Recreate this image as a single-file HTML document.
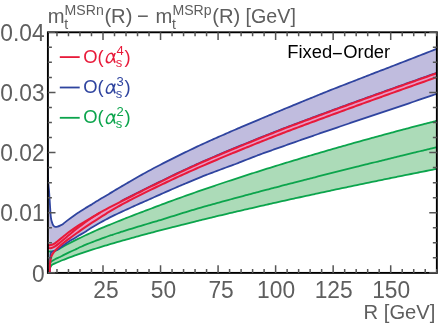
<!DOCTYPE html>
<html><head><meta charset="utf-8"><title>plot</title>
<style>html,body{margin:0;padding:0;background:#fff;width:440px;height:325px;overflow:hidden}body{font-family:"Liberation Sans",sans-serif}</style></head>
<body>
<svg width="440" height="325" viewBox="0 0 440 325" style="display:block;position:absolute;left:0;top:0;will-change:transform">
<defs><clipPath id="cp"><rect x="47.90" y="32.30" width="388.95" height="240.60"/></clipPath></defs>
<rect width="440" height="325" fill="#ffffff"/>
<g clip-path="url(#cp)" fill="none" stroke-linejoin="round">
<path d="M47.90 251.40 L48.56 251.43 L49.51 251.48 L50.56 251.51 L51.50 251.50 L52.30 251.43 L53.07 251.32 L53.80 251.17 L54.50 251.00 L55.15 250.80 L55.75 250.57 L56.35 250.30 L57.00 250.00 L57.71 249.64 L58.47 249.24 L59.24 248.82 L60.00 248.40 L60.75 247.98 L61.50 247.55 L62.25 247.12 L63.00 246.69 L63.75 246.27 L64.50 245.86 L65.25 245.45 L66.00 245.05 L66.75 244.64 L67.50 244.24 L68.25 243.85 L69.00 243.45 L69.75 243.06 L70.50 242.67 L71.25 242.28 L72.00 241.90 L72.75 241.52 L73.50 241.14 L74.25 240.76 L75.00 240.38 L75.75 240.01 L76.50 239.64 L77.25 239.27 L78.00 238.90 L78.75 238.53 L79.50 238.17 L80.25 237.80 L81.00 237.44 L81.75 237.08 L82.50 236.72 L83.25 236.36 L84.00 236.01 L84.75 235.65 L85.50 235.30 L86.25 234.95 L87.00 234.60 L87.75 234.25 L88.50 233.90 L89.25 233.56 L90.00 233.21 L90.75 232.87 L91.50 232.52 L92.25 232.18 L93.00 231.84 L93.75 231.50 L94.50 231.16 L95.25 230.82 L96.00 230.49 L96.75 230.15 L97.50 229.81 L98.25 229.48 L99.00 229.15 L99.75 228.83 L100.50 228.51 L101.25 228.19 L102.00 227.88 L102.75 227.57 L103.50 227.26 L104.25 226.95 L105.00 226.65 L105.75 226.34 L106.50 226.04 L107.25 225.73 L108.00 225.43 L108.75 225.12 L109.50 224.82 L110.25 224.52 L111.00 224.21 L111.75 223.90 L112.50 223.59 L113.25 223.29 L114.00 222.98 L114.75 222.67 L115.50 222.37 L116.25 222.06 L117.00 221.76 L117.75 221.46 L118.50 221.15 L119.25 220.85 L120.00 220.55 L120.75 220.25 L121.50 219.95 L122.25 219.65 L123.00 219.35 L123.75 219.06 L124.50 218.76 L125.25 218.46 L126.00 218.17 L126.75 217.87 L127.50 217.57 L128.25 217.28 L129.00 216.99 L129.75 216.69 L130.50 216.40 L131.25 216.11 L132.00 215.82 L132.75 215.53 L133.50 215.24 L134.25 214.95 L135.00 214.66 L135.75 214.37 L136.50 214.08 L137.25 213.79 L138.00 213.51 L138.75 213.22 L139.50 212.93 L140.25 212.65 L141.00 212.36 L141.75 212.08 L142.50 211.80 L143.25 211.51 L144.00 211.23 L144.75 210.95 L145.50 210.67 L146.25 210.38 L147.00 210.10 L147.75 209.82 L148.50 209.54 L149.25 209.27 L150.00 208.98 L150.75 208.70 L151.50 208.41 L152.25 208.12 L153.00 207.84 L153.75 207.55 L154.50 207.27 L155.25 206.98 L156.00 206.70 L156.75 206.42 L157.50 206.13 L158.25 205.85 L159.00 205.57 L159.75 205.29 L160.50 205.00 L161.25 204.72 L162.00 204.44 L162.75 204.16 L163.50 203.88 L164.25 203.60 L165.00 203.32 L165.75 203.05 L166.50 202.77 L167.25 202.49 L168.00 202.21 L168.75 201.94 L169.50 201.66 L170.25 201.38 L171.00 201.11 L171.75 200.83 L172.50 200.56 L173.25 200.28 L174.00 200.01 L174.75 199.73 L175.50 199.46 L176.25 199.19 L177.00 198.92 L177.75 198.64 L178.50 198.37 L179.25 198.10 L180.00 197.83 L180.75 197.56 L181.50 197.29 L182.25 197.02 L183.00 196.75 L183.75 196.48 L184.50 196.21 L185.25 195.94 L186.00 195.67 L186.75 195.40 L187.50 195.14 L188.25 194.87 L189.00 194.60 L189.75 194.34 L190.50 194.07 L191.25 193.80 L192.00 193.54 L192.75 193.27 L193.50 193.01 L194.25 192.74 L195.00 192.48 L195.75 192.22 L196.50 191.95 L197.25 191.69 L198.00 191.43 L198.75 191.16 L199.50 190.90 L200.25 190.64 L201.00 190.38 L201.75 190.12 L202.50 189.86 L203.25 189.61 L204.00 189.35 L204.75 189.09 L205.50 188.83 L206.25 188.58 L207.00 188.32 L207.75 188.07 L208.50 187.81 L209.25 187.55 L210.00 187.30 L210.75 187.04 L211.50 186.79 L212.25 186.54 L213.00 186.28 L213.75 186.03 L214.50 185.77 L215.25 185.52 L216.00 185.27 L216.75 185.02 L217.50 184.76 L218.25 184.51 L219.00 184.26 L219.75 184.01 L220.50 183.76 L221.25 183.51 L222.00 183.26 L222.75 183.01 L223.50 182.76 L224.25 182.51 L225.00 182.26 L225.75 182.01 L226.50 181.76 L227.25 181.51 L228.00 181.26 L228.75 181.02 L229.50 180.77 L230.25 180.52 L231.00 180.28 L231.75 180.03 L232.50 179.78 L233.25 179.54 L234.00 179.29 L234.75 179.04 L235.50 178.80 L236.25 178.55 L237.00 178.31 L237.75 178.06 L238.50 177.82 L239.25 177.58 L240.00 177.33 L240.75 177.09 L241.50 176.85 L242.25 176.60 L243.00 176.36 L243.75 176.12 L244.50 175.88 L245.25 175.63 L246.00 175.39 L246.75 175.15 L247.50 174.91 L248.25 174.67 L249.00 174.43 L249.75 174.19 L250.50 173.95 L251.25 173.71 L252.00 173.47 L252.75 173.23 L253.50 172.99 L254.25 172.75 L255.00 172.51 L255.75 172.27 L256.50 172.04 L257.25 171.80 L258.00 171.56 L258.75 171.32 L259.50 171.09 L260.25 170.85 L261.00 170.61 L261.75 170.38 L262.50 170.14 L263.25 169.90 L264.00 169.67 L264.75 169.43 L265.50 169.20 L266.25 168.96 L267.00 168.73 L267.75 168.49 L268.50 168.26 L269.25 168.02 L270.00 167.79 L270.75 167.56 L271.50 167.32 L272.25 167.09 L273.00 166.86 L273.75 166.63 L274.50 166.39 L275.25 166.16 L276.00 165.93 L276.75 165.70 L277.50 165.47 L278.25 165.23 L279.00 165.00 L279.75 164.77 L280.50 164.54 L281.25 164.31 L282.00 164.08 L282.75 163.85 L283.50 163.62 L284.25 163.39 L285.00 163.16 L285.75 162.93 L286.50 162.71 L287.25 162.48 L288.00 162.25 L288.75 162.02 L289.50 161.79 L290.25 161.57 L291.00 161.34 L291.75 161.11 L292.50 160.88 L293.25 160.66 L294.00 160.43 L294.75 160.20 L295.50 159.98 L296.25 159.75 L297.00 159.53 L297.75 159.30 L298.50 159.08 L299.25 158.85 L300.00 158.63 L300.75 158.40 L301.50 158.18 L302.25 157.95 L303.00 157.73 L303.75 157.51 L304.50 157.28 L305.25 157.06 L306.00 156.84 L306.75 156.61 L307.50 156.39 L308.25 156.17 L309.00 155.94 L309.75 155.72 L310.50 155.50 L311.25 155.28 L312.00 155.06 L312.75 154.84 L313.50 154.62 L314.25 154.39 L315.00 154.17 L315.75 153.95 L316.50 153.73 L317.25 153.51 L318.00 153.29 L318.75 153.07 L319.50 152.85 L320.25 152.63 L321.00 152.42 L321.75 152.20 L322.50 151.98 L323.25 151.76 L324.00 151.54 L324.75 151.32 L325.50 151.11 L326.25 150.89 L327.00 150.67 L327.75 150.45 L328.50 150.24 L329.25 150.02 L330.00 149.80 L330.75 149.59 L331.50 149.37 L332.25 149.15 L333.00 148.94 L333.75 148.72 L334.50 148.51 L335.25 148.29 L336.00 148.08 L336.75 147.86 L337.50 147.65 L338.25 147.43 L339.00 147.22 L339.75 147.00 L340.50 146.79 L341.25 146.58 L342.00 146.36 L342.75 146.15 L343.50 145.94 L344.25 145.72 L345.00 145.51 L345.75 145.30 L346.50 145.09 L347.25 144.87 L348.00 144.66 L348.75 144.45 L349.50 144.24 L350.25 144.03 L351.00 143.81 L351.75 143.60 L352.50 143.39 L353.25 143.18 L354.00 142.97 L354.75 142.76 L355.50 142.55 L356.25 142.34 L357.00 142.13 L357.75 141.92 L358.50 141.71 L359.25 141.50 L360.00 141.29 L360.75 141.08 L361.50 140.88 L362.25 140.67 L363.00 140.46 L363.75 140.25 L364.50 140.04 L365.25 139.83 L366.00 139.63 L366.75 139.42 L367.50 139.21 L368.25 139.00 L369.00 138.80 L369.75 138.59 L370.50 138.38 L371.25 138.18 L372.00 137.97 L372.75 137.77 L373.50 137.56 L374.25 137.35 L375.00 137.15 L375.75 136.94 L376.50 136.74 L377.25 136.53 L378.00 136.33 L378.75 136.12 L379.50 135.92 L380.25 135.71 L381.00 135.51 L381.75 135.31 L382.50 135.10 L383.25 134.90 L384.00 134.70 L384.75 134.49 L385.50 134.29 L386.25 134.09 L387.00 133.88 L387.75 133.68 L388.50 133.48 L389.25 133.28 L390.00 133.07 L390.75 132.87 L391.50 132.67 L392.25 132.47 L393.00 132.27 L393.75 132.07 L394.50 131.87 L395.25 131.66 L396.00 131.46 L396.75 131.26 L397.50 131.06 L398.25 130.86 L399.00 130.66 L399.75 130.46 L400.50 130.26 L401.25 130.06 L402.00 129.86 L402.75 129.66 L403.50 129.47 L404.25 129.27 L405.00 129.07 L405.75 128.87 L406.50 128.67 L407.25 128.47 L408.00 128.27 L408.75 128.08 L409.50 127.88 L410.25 127.68 L411.00 127.48 L411.75 127.29 L412.50 127.09 L413.25 126.89 L414.00 126.70 L414.75 126.50 L415.50 126.30 L416.25 126.11 L417.00 125.91 L417.75 125.71 L418.50 125.52 L419.25 125.32 L420.00 125.13 L420.75 124.93 L421.50 124.74 L422.25 124.54 L423.00 124.35 L423.75 124.15 L424.50 123.96 L425.25 123.76 L426.00 123.57 L426.75 123.37 L427.50 123.18 L428.25 122.99 L429.00 122.79 L429.75 122.60 L430.50 122.41 L431.25 122.21 L432.00 122.02 L432.75 121.83 L433.50 121.63 L434.25 121.44 L435.00 121.25 L435.81 121.04 L436.66 120.83 L437.43 120.63 L438.00 120.48 L438.31 120.40 L438.44 120.37 L438.47 120.36 L438.50 120.35 L438.50 168.52 L438.47 168.53 L438.44 168.54 L438.31 168.56 L438.00 168.62 L437.43 168.74 L436.66 168.89 L435.81 169.06 L435.00 169.22 L434.25 169.36 L433.50 169.51 L432.75 169.66 L432.00 169.81 L431.25 169.96 L430.50 170.11 L429.75 170.26 L429.00 170.40 L428.25 170.55 L427.50 170.70 L426.75 170.85 L426.00 171.00 L425.25 171.15 L424.50 171.30 L423.75 171.45 L423.00 171.60 L422.25 171.75 L421.50 171.90 L420.75 172.05 L420.00 172.20 L419.25 172.35 L418.50 172.50 L417.75 172.65 L417.00 172.80 L416.25 172.95 L415.50 173.10 L414.75 173.25 L414.00 173.40 L413.25 173.55 L412.50 173.70 L411.75 173.85 L411.00 174.00 L410.25 174.15 L409.50 174.30 L408.75 174.45 L408.00 174.60 L407.25 174.75 L406.50 174.90 L405.75 175.06 L405.00 175.21 L404.25 175.36 L403.50 175.51 L402.75 175.66 L402.00 175.81 L401.25 175.96 L400.50 176.12 L399.75 176.27 L399.00 176.42 L398.25 176.57 L397.50 176.72 L396.75 176.88 L396.00 177.03 L395.25 177.18 L394.50 177.33 L393.75 177.49 L393.00 177.64 L392.25 177.79 L391.50 177.94 L390.75 178.10 L390.00 178.25 L389.25 178.40 L388.50 178.56 L387.75 178.71 L387.00 178.86 L386.25 179.01 L385.50 179.17 L384.75 179.32 L384.00 179.47 L383.25 179.63 L382.50 179.78 L381.75 179.94 L381.00 180.09 L380.25 180.24 L379.50 180.40 L378.75 180.55 L378.00 180.71 L377.25 180.86 L376.50 181.01 L375.75 181.17 L375.00 181.32 L374.25 181.48 L373.50 181.63 L372.75 181.79 L372.00 181.94 L371.25 182.10 L370.50 182.25 L369.75 182.41 L369.00 182.56 L368.25 182.72 L367.50 182.87 L366.75 183.03 L366.00 183.19 L365.25 183.34 L364.50 183.50 L363.75 183.65 L363.00 183.81 L362.25 183.96 L361.50 184.12 L360.75 184.28 L360.00 184.43 L359.25 184.59 L358.50 184.75 L357.75 184.90 L357.00 185.06 L356.25 185.22 L355.50 185.37 L354.75 185.53 L354.00 185.69 L353.25 185.84 L352.50 186.00 L351.75 186.16 L351.00 186.32 L350.25 186.47 L349.50 186.63 L348.75 186.79 L348.00 186.95 L347.25 187.10 L346.50 187.26 L345.75 187.42 L345.00 187.58 L344.25 187.74 L343.50 187.89 L342.75 188.05 L342.00 188.21 L341.25 188.37 L340.50 188.53 L339.75 188.69 L339.00 188.85 L338.25 189.01 L337.50 189.16 L336.75 189.32 L336.00 189.48 L335.25 189.64 L334.50 189.80 L333.75 189.96 L333.00 190.12 L332.25 190.28 L331.50 190.44 L330.75 190.60 L330.00 190.76 L329.25 190.92 L328.50 191.08 L327.75 191.24 L327.00 191.40 L326.25 191.56 L325.50 191.72 L324.75 191.88 L324.00 192.04 L323.25 192.21 L322.50 192.37 L321.75 192.53 L321.00 192.69 L320.25 192.85 L319.50 193.01 L318.75 193.17 L318.00 193.34 L317.25 193.50 L316.50 193.66 L315.75 193.82 L315.00 193.98 L314.25 194.15 L313.50 194.31 L312.75 194.47 L312.00 194.63 L311.25 194.79 L310.50 194.96 L309.75 195.12 L309.00 195.28 L308.25 195.45 L307.50 195.61 L306.75 195.77 L306.00 195.94 L305.25 196.10 L304.50 196.26 L303.75 196.43 L303.00 196.59 L302.25 196.75 L301.50 196.92 L300.75 197.08 L300.00 197.25 L299.25 197.41 L298.50 197.58 L297.75 197.74 L297.00 197.91 L296.25 198.07 L295.50 198.24 L294.75 198.40 L294.00 198.57 L293.25 198.73 L292.50 198.90 L291.75 199.06 L291.00 199.23 L290.25 199.39 L289.50 199.56 L288.75 199.72 L288.00 199.89 L287.25 200.06 L286.50 200.22 L285.75 200.39 L285.00 200.56 L284.25 200.72 L283.50 200.89 L282.75 201.06 L282.00 201.22 L281.25 201.39 L280.50 201.56 L279.75 201.73 L279.00 201.89 L278.25 202.06 L277.50 202.23 L276.75 202.40 L276.00 202.56 L275.25 202.73 L274.50 202.90 L273.75 203.07 L273.00 203.24 L272.25 203.41 L271.50 203.57 L270.75 203.74 L270.00 203.91 L269.25 204.08 L268.50 204.25 L267.75 204.42 L267.00 204.59 L266.25 204.76 L265.50 204.93 L264.75 205.10 L264.00 205.27 L263.25 205.44 L262.50 205.61 L261.75 205.78 L261.00 205.95 L260.25 206.12 L259.50 206.29 L258.75 206.46 L258.00 206.63 L257.25 206.80 L256.50 206.98 L255.75 207.15 L255.00 207.32 L254.25 207.49 L253.50 207.66 L252.75 207.84 L252.00 208.01 L251.25 208.18 L250.50 208.35 L249.75 208.52 L249.00 208.70 L248.25 208.87 L247.50 209.04 L246.75 209.22 L246.00 209.39 L245.25 209.56 L244.50 209.74 L243.75 209.91 L243.00 210.08 L242.25 210.26 L241.50 210.43 L240.75 210.61 L240.00 210.78 L239.25 210.96 L238.50 211.13 L237.75 211.31 L237.00 211.48 L236.25 211.66 L235.50 211.83 L234.75 212.01 L234.00 212.18 L233.25 212.36 L232.50 212.53 L231.75 212.71 L231.00 212.89 L230.25 213.06 L229.50 213.24 L228.75 213.42 L228.00 213.59 L227.25 213.77 L226.50 213.95 L225.75 214.13 L225.00 214.30 L224.25 214.48 L223.50 214.66 L222.75 214.84 L222.00 215.01 L221.25 215.19 L220.50 215.37 L219.75 215.55 L219.00 215.73 L218.25 215.91 L217.50 216.09 L216.75 216.27 L216.00 216.45 L215.25 216.63 L214.50 216.81 L213.75 216.99 L213.00 217.17 L212.25 217.35 L211.50 217.53 L210.75 217.71 L210.00 217.89 L209.25 218.07 L208.50 218.25 L207.75 218.43 L207.00 218.62 L206.25 218.80 L205.50 218.98 L204.75 219.16 L204.00 219.34 L203.25 219.53 L202.50 219.71 L201.75 219.89 L201.00 220.08 L200.25 220.26 L199.50 220.44 L198.75 220.63 L198.00 220.81 L197.25 220.99 L196.50 221.18 L195.75 221.36 L195.00 221.55 L194.25 221.73 L193.50 221.92 L192.75 222.10 L192.00 222.29 L191.25 222.48 L190.50 222.66 L189.75 222.85 L189.00 223.03 L188.25 223.22 L187.50 223.41 L186.75 223.59 L186.00 223.78 L185.25 223.97 L184.50 224.16 L183.75 224.34 L183.00 224.53 L182.25 224.72 L181.50 224.91 L180.75 225.10 L180.00 225.29 L179.25 225.48 L178.50 225.67 L177.75 225.86 L177.00 226.05 L176.25 226.24 L175.50 226.43 L174.75 226.62 L174.00 226.81 L173.25 227.00 L172.50 227.19 L171.75 227.38 L171.00 227.57 L170.25 227.77 L169.50 227.96 L168.75 228.15 L168.00 228.34 L167.25 228.54 L166.50 228.73 L165.75 228.92 L165.00 229.12 L164.25 229.31 L163.50 229.51 L162.75 229.70 L162.00 229.90 L161.25 230.09 L160.50 230.29 L159.75 230.48 L159.00 230.68 L158.25 230.88 L157.50 231.07 L156.75 231.27 L156.00 231.47 L155.25 231.66 L154.50 231.86 L153.75 232.06 L153.00 232.26 L152.25 232.46 L151.50 232.66 L150.75 232.86 L150.00 233.05 L149.25 233.25 L148.50 233.45 L147.75 233.66 L147.00 233.86 L146.25 234.06 L145.50 234.26 L144.75 234.46 L144.00 234.66 L143.25 234.87 L142.50 235.07 L141.75 235.27 L141.00 235.47 L140.25 235.68 L139.50 235.88 L138.75 236.09 L138.00 236.29 L137.25 236.50 L136.50 236.70 L135.75 236.91 L135.00 237.12 L134.25 237.32 L133.50 237.53 L132.75 237.74 L132.00 237.94 L131.25 238.15 L130.50 238.36 L129.75 238.57 L129.00 238.78 L128.25 238.99 L127.50 239.20 L126.75 239.41 L126.00 239.62 L125.25 239.83 L124.50 240.05 L123.75 240.26 L123.00 240.47 L122.25 240.69 L121.50 240.90 L120.75 241.11 L120.00 241.33 L119.25 241.54 L118.50 241.76 L117.75 241.98 L117.00 242.19 L116.25 242.41 L115.50 242.63 L114.75 242.85 L114.00 243.06 L113.25 243.28 L112.50 243.50 L111.75 243.72 L111.00 243.94 L110.25 244.17 L109.50 244.39 L108.75 244.61 L108.00 244.83 L107.25 245.06 L106.50 245.28 L105.75 245.51 L105.00 245.73 L104.25 245.96 L103.50 246.19 L102.75 246.41 L102.00 246.64 L101.25 246.87 L100.50 247.10 L99.75 247.33 L99.00 247.56 L98.25 247.80 L97.50 248.03 L96.75 248.26 L96.00 248.50 L95.25 248.73 L94.50 248.97 L93.75 249.20 L93.00 249.44 L92.25 249.68 L91.50 249.92 L90.75 250.16 L90.00 250.40 L89.25 250.64 L88.50 250.89 L87.75 251.13 L87.00 251.38 L86.25 251.62 L85.50 251.87 L84.75 252.12 L84.00 252.37 L83.25 252.62 L82.50 252.87 L81.75 253.12 L81.00 253.38 L80.25 253.63 L79.50 253.89 L78.75 254.15 L78.00 254.41 L77.25 254.67 L76.50 254.93 L75.75 255.20 L75.00 255.46 L74.25 255.73 L73.50 256.00 L72.75 256.27 L72.00 256.54 L71.25 256.82 L70.50 257.10 L69.75 257.37 L69.00 257.66 L68.25 257.94 L67.50 258.23 L66.75 258.52 L66.00 258.81 L65.25 259.10 L64.50 259.40 L63.75 259.70 L63.00 260.00 L62.30 260.29 L61.62 260.57 L60.89 260.88 L60.00 261.26 L58.86 261.73 L57.53 262.28 L56.19 262.85 L55.00 263.40 L54.00 263.84 L53.09 264.22 L52.27 264.69 L51.50 265.40 L50.75 266.58 L50.03 268.07 L49.43 269.51 L49.00 270.50 Z" fill="#acdbb8" stroke="none"/>
<path d="M47.30 150.00 L47.39 155.07 L47.51 162.44 L47.65 170.09 L47.80 176.00 L47.96 179.47 L48.14 181.62 L48.32 183.22 L48.50 185.00 L48.67 187.00 L48.85 188.88 L49.03 190.81 L49.20 193.00 L49.37 195.48 L49.53 198.14 L49.70 200.99 L49.90 204.00 L50.12 207.43 L50.36 211.19 L50.61 214.79 L50.90 217.70 L51.22 219.72 L51.58 221.14 L51.95 222.22 L52.30 223.20 L52.62 224.09 L52.93 224.77 L53.25 225.32 L53.60 225.80 L53.99 226.21 L54.39 226.53 L54.83 226.76 L55.30 226.90 L55.81 226.94 L56.35 226.88 L56.92 226.76 L57.50 226.60 L58.09 226.42 L58.69 226.19 L59.33 225.92 L60.00 225.60 L60.70 225.27 L61.43 224.91 L62.22 224.47 L63.10 223.90 L64.05 223.19 L65.08 222.36 L66.21 221.42 L67.50 220.40 L69.04 219.22 L70.78 217.91 L72.56 216.59 L74.20 215.40 L75.66 214.40 L77.02 213.51 L78.35 212.67 L79.70 211.80 L81.16 210.85 L82.67 209.87 L84.10 208.96 L85.30 208.20 L86.17 207.67 L86.81 207.30 L87.37 206.98 L88.00 206.62 L88.73 206.21 L89.48 205.78 L90.24 205.34 L91.00 204.88 L91.75 204.41 L92.50 203.92 L93.25 203.43 L94.00 202.95 L94.75 202.48 L95.50 202.01 L96.25 201.54 L97.00 201.08 L97.75 200.62 L98.50 200.17 L99.25 199.72 L100.00 199.26 L100.75 198.81 L101.50 198.35 L102.25 197.89 L103.00 197.44 L103.75 196.99 L104.50 196.55 L105.25 196.10 L106.00 195.66 L106.75 195.23 L107.50 194.80 L108.25 194.37 L109.00 193.93 L109.75 193.48 L110.50 193.03 L111.25 192.57 L112.00 192.12 L112.75 191.66 L113.50 191.20 L114.25 190.74 L115.00 190.29 L115.75 189.84 L116.50 189.39 L117.25 188.94 L118.00 188.49 L118.75 188.05 L119.50 187.61 L120.25 187.17 L121.00 186.73 L121.75 186.29 L122.50 185.86 L123.25 185.43 L124.00 184.99 L124.75 184.55 L125.50 184.11 L126.25 183.67 L127.00 183.23 L127.75 182.78 L128.50 182.34 L129.25 181.90 L130.00 181.46 L130.75 181.02 L131.50 180.58 L132.25 180.15 L133.00 179.71 L133.75 179.28 L134.50 178.85 L135.25 178.42 L136.00 177.99 L136.75 177.56 L137.50 177.13 L138.25 176.71 L139.00 176.29 L139.75 175.86 L140.50 175.44 L141.25 175.02 L142.00 174.60 L142.75 174.19 L143.50 173.77 L144.25 173.36 L145.00 172.94 L145.75 172.53 L146.50 172.12 L147.25 171.71 L148.00 171.30 L148.75 170.89 L149.50 170.48 L150.25 170.08 L151.00 169.68 L151.75 169.28 L152.50 168.88 L153.25 168.48 L154.00 168.08 L154.75 167.69 L155.50 167.29 L156.25 166.90 L157.00 166.51 L157.75 166.12 L158.50 165.72 L159.25 165.33 L160.00 164.95 L160.75 164.56 L161.50 164.17 L162.25 163.78 L163.00 163.40 L163.75 163.01 L164.50 162.63 L165.25 162.25 L166.00 161.86 L166.75 161.48 L167.50 161.10 L168.25 160.72 L169.00 160.34 L169.75 159.96 L170.50 159.58 L171.25 159.21 L172.00 158.83 L172.75 158.46 L173.50 158.08 L174.25 157.71 L175.00 157.33 L175.75 156.96 L176.50 156.59 L177.25 156.22 L178.00 155.85 L178.75 155.48 L179.50 155.11 L180.25 154.74 L181.00 154.37 L181.75 154.01 L182.50 153.64 L183.25 153.27 L184.00 152.91 L184.75 152.54 L185.50 152.18 L186.25 151.81 L187.00 151.45 L187.75 151.09 L188.50 150.73 L189.25 150.37 L190.00 150.01 L190.75 149.65 L191.50 149.29 L192.25 148.93 L193.00 148.57 L193.75 148.21 L194.50 147.85 L195.25 147.50 L196.00 147.14 L196.75 146.79 L197.50 146.43 L198.25 146.07 L199.00 145.72 L199.75 145.37 L200.50 145.03 L201.25 144.68 L202.00 144.34 L202.75 144.00 L203.50 143.66 L204.25 143.32 L205.00 142.98 L205.75 142.64 L206.50 142.30 L207.25 141.96 L208.00 141.63 L208.75 141.29 L209.50 140.95 L210.25 140.62 L211.00 140.28 L211.75 139.94 L212.50 139.61 L213.25 139.28 L214.00 138.94 L214.75 138.61 L215.50 138.27 L216.25 137.94 L217.00 137.61 L217.75 137.28 L218.50 136.95 L219.25 136.61 L220.00 136.28 L220.75 135.95 L221.50 135.62 L222.25 135.29 L223.00 134.96 L223.75 134.63 L224.50 134.31 L225.25 133.98 L226.00 133.65 L226.75 133.32 L227.50 133.00 L228.25 132.67 L229.00 132.34 L229.75 132.02 L230.50 131.69 L231.25 131.37 L232.00 131.04 L232.75 130.72 L233.50 130.39 L234.25 130.07 L235.00 129.74 L235.75 129.42 L236.50 129.10 L237.25 128.78 L238.00 128.45 L238.75 128.13 L239.50 127.81 L240.25 127.49 L241.00 127.17 L241.75 126.85 L242.50 126.53 L243.25 126.21 L244.00 125.89 L244.75 125.57 L245.50 125.25 L246.25 124.93 L247.00 124.61 L247.75 124.29 L248.50 123.97 L249.25 123.66 L250.00 123.34 L250.75 123.02 L251.50 122.70 L252.25 122.39 L253.00 122.07 L253.75 121.75 L254.50 121.44 L255.25 121.12 L256.00 120.81 L256.75 120.49 L257.50 120.18 L258.25 119.86 L259.00 119.55 L259.75 119.23 L260.50 118.92 L261.25 118.61 L262.00 118.29 L262.75 117.98 L263.50 117.67 L264.25 117.35 L265.00 117.04 L265.75 116.73 L266.50 116.42 L267.25 116.11 L268.00 115.79 L268.75 115.48 L269.50 115.17 L270.25 114.86 L271.00 114.55 L271.75 114.23 L272.50 113.92 L273.25 113.60 L274.00 113.29 L274.75 112.97 L275.50 112.66 L276.25 112.35 L277.00 112.03 L277.75 111.72 L278.50 111.41 L279.25 111.09 L280.00 110.78 L280.75 110.47 L281.50 110.16 L282.25 109.85 L283.00 109.53 L283.75 109.22 L284.50 108.91 L285.25 108.60 L286.00 108.29 L286.75 107.98 L287.50 107.67 L288.25 107.36 L289.00 107.05 L289.75 106.74 L290.50 106.43 L291.25 106.12 L292.00 105.81 L292.75 105.50 L293.50 105.19 L294.25 104.88 L295.00 104.57 L295.75 104.26 L296.50 103.96 L297.25 103.65 L298.00 103.34 L298.75 103.03 L299.50 102.72 L300.25 102.42 L301.00 102.11 L301.75 101.80 L302.50 101.49 L303.25 101.19 L304.00 100.88 L304.75 100.57 L305.50 100.27 L306.25 99.96 L307.00 99.65 L307.75 99.35 L308.50 99.04 L309.25 98.74 L310.00 98.43 L310.75 98.13 L311.50 97.82 L312.25 97.52 L313.00 97.21 L313.75 96.91 L314.50 96.60 L315.25 96.30 L316.00 95.99 L316.75 95.69 L317.50 95.38 L318.25 95.08 L319.00 94.78 L319.75 94.47 L320.50 94.17 L321.25 93.86 L322.00 93.56 L322.75 93.26 L323.50 92.95 L324.25 92.65 L325.00 92.35 L325.75 92.05 L326.50 91.74 L327.25 91.44 L328.00 91.14 L328.75 90.84 L329.50 90.54 L330.25 90.24 L331.00 89.94 L331.75 89.64 L332.50 89.35 L333.25 89.06 L334.00 88.76 L334.75 88.47 L335.50 88.17 L336.25 87.88 L337.00 87.59 L337.75 87.29 L338.50 87.00 L339.25 86.70 L340.00 86.41 L340.75 86.12 L341.50 85.82 L342.25 85.53 L343.00 85.24 L343.75 84.95 L344.50 84.65 L345.25 84.36 L346.00 84.07 L346.75 83.77 L347.50 83.48 L348.25 83.19 L349.00 82.90 L349.75 82.61 L350.50 82.31 L351.25 82.02 L352.00 81.73 L352.75 81.44 L353.50 81.15 L354.25 80.85 L355.00 80.56 L355.75 80.27 L356.50 79.98 L357.25 79.69 L358.00 79.40 L358.75 79.11 L359.50 78.82 L360.25 78.52 L361.00 78.23 L361.75 77.94 L362.50 77.65 L363.25 77.36 L364.00 77.07 L364.75 76.78 L365.50 76.49 L366.25 76.20 L367.00 75.91 L367.75 75.62 L368.50 75.33 L369.25 75.04 L370.00 74.75 L370.75 74.46 L371.50 74.17 L372.25 73.88 L373.00 73.59 L373.75 73.30 L374.50 73.01 L375.25 72.72 L376.00 72.43 L376.75 72.15 L377.50 71.86 L378.25 71.57 L379.00 71.28 L379.75 70.99 L380.50 70.70 L381.25 70.41 L382.00 70.12 L382.75 69.83 L383.50 69.55 L384.25 69.26 L385.00 68.97 L385.75 68.68 L386.50 68.39 L387.25 68.10 L388.00 67.82 L388.75 67.53 L389.50 67.24 L390.25 66.95 L391.00 66.66 L391.75 66.38 L392.50 66.09 L393.25 65.80 L394.00 65.51 L394.75 65.22 L395.50 64.93 L396.25 64.64 L397.00 64.35 L397.75 64.06 L398.50 63.76 L399.25 63.47 L400.00 63.18 L400.75 62.88 L401.50 62.59 L402.25 62.30 L403.00 62.00 L403.75 61.71 L404.50 61.42 L405.25 61.13 L406.00 60.83 L406.75 60.54 L407.50 60.25 L408.25 59.96 L409.00 59.66 L409.75 59.37 L410.50 59.08 L411.25 58.79 L412.00 58.50 L412.75 58.20 L413.50 57.91 L414.25 57.62 L415.00 57.33 L415.75 57.04 L416.50 56.74 L417.25 56.45 L418.00 56.16 L418.75 55.87 L419.50 55.58 L420.25 55.28 L421.00 54.99 L421.75 54.70 L422.50 54.41 L423.25 54.12 L424.00 53.83 L424.75 53.54 L425.50 53.24 L426.25 52.95 L427.00 52.66 L427.75 52.37 L428.50 52.08 L429.25 51.79 L430.00 51.50 L430.75 51.21 L431.50 50.91 L432.25 50.62 L433.00 50.33 L433.76 50.04 L434.53 49.74 L435.29 49.45 L436.00 49.17 L436.72 48.89 L437.44 48.61 L438.06 48.37 L438.50 48.20 L438.50 93.23 L438.06 93.38 L437.44 93.59 L436.72 93.84 L436.00 94.08 L435.29 94.33 L434.53 94.58 L433.76 94.85 L433.00 95.11 L432.25 95.36 L431.50 95.62 L430.75 95.87 L430.00 96.13 L429.25 96.39 L428.50 96.64 L427.75 96.90 L427.00 97.15 L426.25 97.41 L425.50 97.67 L424.75 97.92 L424.00 98.18 L423.25 98.43 L422.50 98.69 L421.75 98.95 L421.00 99.20 L420.25 99.46 L419.50 99.71 L418.75 99.97 L418.00 100.22 L417.25 100.48 L416.50 100.74 L415.75 100.99 L415.00 101.25 L414.25 101.50 L413.50 101.76 L412.75 102.02 L412.00 102.27 L411.25 102.53 L410.50 102.78 L409.75 103.04 L409.00 103.30 L408.25 103.55 L407.50 103.81 L406.75 104.06 L406.00 104.32 L405.25 104.57 L404.50 104.83 L403.75 105.09 L403.00 105.34 L402.25 105.60 L401.50 105.86 L400.75 106.11 L400.00 106.37 L399.25 106.62 L398.50 106.87 L397.75 107.12 L397.00 107.37 L396.25 107.62 L395.50 107.87 L394.75 108.12 L394.00 108.38 L393.25 108.63 L392.50 108.88 L391.75 109.13 L391.00 109.38 L390.25 109.63 L389.50 109.88 L388.75 110.13 L388.00 110.39 L387.25 110.64 L386.50 110.89 L385.75 111.14 L385.00 111.39 L384.25 111.64 L383.50 111.89 L382.75 112.14 L382.00 112.40 L381.25 112.65 L380.50 112.90 L379.75 113.15 L379.00 113.40 L378.25 113.65 L377.50 113.90 L376.75 114.16 L376.00 114.41 L375.25 114.66 L374.50 114.91 L373.75 115.16 L373.00 115.41 L372.25 115.67 L371.50 115.92 L370.75 116.17 L370.00 116.42 L369.25 116.67 L368.50 116.92 L367.75 117.18 L367.00 117.43 L366.25 117.68 L365.50 117.93 L364.75 118.18 L364.00 118.44 L363.25 118.69 L362.50 118.94 L361.75 119.19 L361.00 119.44 L360.25 119.70 L359.50 119.95 L358.75 120.20 L358.00 120.45 L357.25 120.70 L356.50 120.96 L355.75 121.21 L355.00 121.46 L354.25 121.71 L353.50 121.97 L352.75 122.22 L352.00 122.47 L351.25 122.72 L350.50 122.98 L349.75 123.23 L349.00 123.48 L348.25 123.73 L347.50 123.99 L346.75 124.24 L346.00 124.49 L345.25 124.74 L344.50 125.00 L343.75 125.25 L343.00 125.50 L342.25 125.76 L341.50 126.01 L340.75 126.26 L340.00 126.52 L339.25 126.77 L338.50 127.02 L337.75 127.27 L337.00 127.53 L336.25 127.78 L335.50 128.03 L334.75 128.29 L334.00 128.54 L333.25 128.80 L332.50 129.05 L331.75 129.30 L331.00 129.56 L330.25 129.81 L329.50 130.07 L328.75 130.33 L328.00 130.59 L327.25 130.85 L326.50 131.10 L325.75 131.36 L325.00 131.62 L324.25 131.88 L323.50 132.14 L322.75 132.40 L322.00 132.66 L321.25 132.92 L320.50 133.18 L319.75 133.44 L319.00 133.70 L318.25 133.96 L317.50 134.22 L316.75 134.48 L316.00 134.74 L315.25 135.00 L314.50 135.27 L313.75 135.53 L313.00 135.79 L312.25 136.05 L311.50 136.31 L310.75 136.57 L310.00 136.83 L309.25 137.09 L308.50 137.35 L307.75 137.61 L307.00 137.87 L306.25 138.14 L305.50 138.40 L304.75 138.66 L304.00 138.92 L303.25 139.18 L302.50 139.44 L301.75 139.71 L301.00 139.97 L300.25 140.23 L299.50 140.49 L298.75 140.75 L298.00 141.02 L297.25 141.28 L296.50 141.54 L295.75 141.80 L295.00 142.07 L294.25 142.33 L293.50 142.59 L292.75 142.86 L292.00 143.12 L291.25 143.38 L290.50 143.65 L289.75 143.91 L289.00 144.17 L288.25 144.44 L287.50 144.70 L286.75 144.96 L286.00 145.23 L285.25 145.49 L284.50 145.76 L283.75 146.02 L283.00 146.29 L282.25 146.55 L281.50 146.81 L280.75 147.08 L280.00 147.34 L279.25 147.61 L278.50 147.87 L277.75 148.14 L277.00 148.41 L276.25 148.67 L275.50 148.94 L274.75 149.20 L274.00 149.47 L273.25 149.73 L272.50 150.00 L271.75 150.27 L271.00 150.53 L270.25 150.80 L269.50 151.07 L268.75 151.33 L268.00 151.60 L267.25 151.87 L266.50 152.14 L265.75 152.40 L265.00 152.67 L264.25 152.94 L263.50 153.20 L262.75 153.47 L262.00 153.74 L261.25 154.01 L260.50 154.29 L259.75 154.57 L259.00 154.85 L258.25 155.13 L257.50 155.42 L256.75 155.72 L256.00 156.01 L255.25 156.30 L254.50 156.59 L253.75 156.88 L253.00 157.17 L252.25 157.46 L251.50 157.76 L250.75 158.05 L250.00 158.34 L249.25 158.63 L248.50 158.92 L247.75 159.22 L247.00 159.51 L246.25 159.80 L245.50 160.10 L244.75 160.39 L244.00 160.68 L243.25 160.98 L242.50 161.27 L241.75 161.57 L241.00 161.86 L240.25 162.16 L239.50 162.45 L238.75 162.75 L238.00 163.04 L237.25 163.34 L236.50 163.64 L235.75 163.93 L235.00 164.22 L234.25 164.50 L233.50 164.78 L232.75 165.05 L232.00 165.32 L231.25 165.59 L230.50 165.87 L229.75 166.14 L229.00 166.42 L228.25 166.69 L227.50 166.97 L226.75 167.24 L226.00 167.52 L225.25 167.80 L224.50 168.07 L223.75 168.35 L223.00 168.63 L222.25 168.90 L221.50 169.18 L220.75 169.46 L220.00 169.74 L219.25 170.02 L218.50 170.30 L217.75 170.57 L217.00 170.85 L216.25 171.13 L215.50 171.41 L214.75 171.69 L214.00 171.97 L213.25 172.25 L212.50 172.54 L211.75 172.82 L211.00 173.10 L210.25 173.38 L209.50 173.66 L208.75 173.95 L208.00 174.23 L207.25 174.51 L206.50 174.79 L205.75 175.07 L205.00 175.36 L204.25 175.66 L203.50 175.97 L202.75 176.28 L202.00 176.59 L201.25 176.90 L200.50 177.21 L199.75 177.52 L199.00 177.83 L198.25 178.14 L197.50 178.45 L196.75 178.76 L196.00 179.07 L195.25 179.39 L194.50 179.70 L193.75 180.01 L193.00 180.32 L192.25 180.64 L191.50 180.95 L190.75 181.27 L190.00 181.58 L189.25 181.89 L188.50 182.21 L187.75 182.53 L187.00 182.84 L186.25 183.16 L185.50 183.48 L184.75 183.79 L184.00 184.11 L183.25 184.43 L182.50 184.75 L181.75 185.07 L181.00 185.39 L180.25 185.71 L179.50 186.03 L178.75 186.35 L178.00 186.67 L177.25 187.00 L176.50 187.32 L175.75 187.64 L175.00 187.97 L174.25 188.29 L173.50 188.61 L172.75 188.94 L172.00 189.27 L171.25 189.59 L170.50 189.92 L169.75 190.25 L169.00 190.58 L168.25 190.91 L167.50 191.23 L166.75 191.57 L166.00 191.90 L165.25 192.23 L164.50 192.56 L163.75 192.89 L163.00 193.23 L162.25 193.56 L161.50 193.89 L160.75 194.23 L160.00 194.56 L159.25 194.90 L158.50 195.24 L157.75 195.58 L157.00 195.92 L156.25 196.25 L155.50 196.59 L154.75 196.94 L154.00 197.28 L153.25 197.62 L152.50 197.97 L151.75 198.31 L151.00 198.65 L150.25 198.98 L149.50 199.31 L148.75 199.64 L148.00 199.97 L147.25 200.29 L146.50 200.61 L145.75 200.94 L145.00 201.26 L144.25 201.58 L143.50 201.91 L142.75 202.24 L142.00 202.57 L141.25 202.90 L140.50 203.23 L139.75 203.56 L139.00 203.89 L138.25 204.22 L137.50 204.56 L136.75 204.89 L136.00 205.23 L135.25 205.56 L134.50 205.90 L133.75 206.24 L133.00 206.58 L132.25 206.92 L131.50 207.27 L130.75 207.61 L130.00 207.96 L129.25 208.30 L128.50 208.65 L127.75 209.00 L127.00 209.35 L126.25 209.70 L125.50 210.04 L124.75 210.39 L124.00 210.74 L123.25 211.08 L122.50 211.42 L121.75 211.77 L121.00 212.11 L120.25 212.46 L119.50 212.80 L118.75 213.15 L118.00 213.50 L117.25 213.86 L116.50 214.21 L115.75 214.57 L115.00 214.92 L114.25 215.28 L113.50 215.64 L112.75 216.00 L112.00 216.37 L111.25 216.74 L110.50 217.11 L109.75 217.49 L109.00 217.88 L108.25 218.27 L107.50 218.67 L106.75 219.08 L106.00 219.48 L105.25 219.89 L104.50 220.30 L103.75 220.71 L103.00 221.13 L102.25 221.54 L101.50 221.96 L100.75 222.38 L100.00 222.80 L99.25 223.23 L98.50 223.66 L97.75 224.09 L97.00 224.52 L96.25 224.96 L95.50 225.40 L94.75 225.84 L94.00 226.29 L93.25 226.74 L92.50 227.19 L91.75 227.64 L91.00 228.10 L90.25 228.56 L89.50 229.03 L88.75 229.50 L88.00 229.97 L87.30 230.42 L86.64 230.85 L85.91 231.33 L85.00 231.90 L83.84 232.61 L82.51 233.42 L81.09 234.26 L79.70 235.10 L78.34 235.92 L76.97 236.74 L75.59 237.57 L74.20 238.40 L72.80 239.21 L71.40 240.02 L70.00 240.84 L68.60 241.70 L67.19 242.62 L65.78 243.59 L64.40 244.57 L63.10 245.50 L61.89 246.42 L60.76 247.34 L59.69 248.19 L58.70 248.90 L57.80 249.42 L56.98 249.81 L56.22 250.11 L55.50 250.40 L54.81 250.66 L54.16 250.88 L53.56 251.08 L53.00 251.30 L52.47 251.50 L51.99 251.69 L51.56 251.93 L51.20 252.30 L50.94 252.75 L50.76 253.28 L50.62 253.98 L50.50 255.00 L50.39 256.38 L50.32 258.04 L50.26 259.94 L50.20 262.00 L50.14 264.52 L50.08 267.44 L50.03 270.13 L50.00 272.00 Z" fill="#c0bcde" stroke="none"/>
<path d="M47.90 251.40 C48.50 251.42 50.40 251.57 51.50 251.50 C52.60 251.43 53.58 251.25 54.50 251.00 C55.42 250.75 56.08 250.43 57.00 250.00 C57.92 249.57 59.00 248.95 60.00 248.40 C61.00 247.85 62.00 247.25 63.00 246.69 C64.00 246.13 65.00 245.59 66.00 245.05 C67.00 244.51 68.00 243.98 69.00 243.45 C70.00 242.93 71.00 242.41 72.00 241.90 C73.00 241.39 74.00 240.88 75.00 240.38 C76.00 239.88 77.00 239.39 78.00 238.90 C79.00 238.41 80.00 237.92 81.00 237.44 C82.00 236.96 83.00 236.48 84.00 236.01 C85.00 235.54 86.00 235.07 87.00 234.60 C88.00 234.13 89.00 233.67 90.00 233.21 C91.00 232.75 92.00 232.29 93.00 231.84 C94.00 231.39 95.00 230.94 96.00 230.49 C97.00 230.04 98.00 229.59 99.00 229.15 C100.00 228.72 101.00 228.30 102.00 227.88 C103.00 227.46 104.00 227.06 105.00 226.65 C106.00 226.24 107.00 225.83 108.00 225.43 C109.00 225.02 110.00 224.62 111.00 224.21 C112.00 223.80 113.00 223.39 114.00 222.98 C115.00 222.57 116.00 222.16 117.00 221.76 C118.00 221.35 119.00 220.95 120.00 220.55 C121.00 220.15 122.00 219.75 123.00 219.35 C124.00 218.96 125.00 218.56 126.00 218.17 C127.00 217.77 128.00 217.38 129.00 216.99 C130.00 216.60 131.00 216.21 132.00 215.82 C133.00 215.43 134.00 215.04 135.00 214.66 C136.00 214.27 137.00 213.89 138.00 213.51 C139.00 213.12 140.00 212.74 141.00 212.36 C142.00 211.98 143.00 211.61 144.00 211.23 C145.00 210.85 146.00 210.48 147.00 210.10 C148.00 209.73 149.00 209.36 150.00 208.98 C151.00 208.61 152.00 208.22 153.00 207.84 C154.00 207.46 155.00 207.08 156.00 206.70 C157.00 206.32 158.00 205.94 159.00 205.57 C160.00 205.19 161.00 204.82 162.00 204.44 C163.00 204.07 164.00 203.70 165.00 203.32 C166.00 202.95 167.00 202.58 168.00 202.21 C169.00 201.84 170.00 201.47 171.00 201.11 C172.00 200.74 173.00 200.37 174.00 200.01 C175.00 199.64 176.00 199.28 177.00 198.92 C178.00 198.55 179.00 198.19 180.00 197.83 C181.00 197.47 182.00 197.11 183.00 196.75 C184.00 196.39 185.00 196.03 186.00 195.67 C187.00 195.31 188.00 194.96 189.00 194.60 C190.00 194.25 191.00 193.89 192.00 193.54 C193.00 193.18 194.00 192.83 195.00 192.48 C196.00 192.13 197.00 191.78 198.00 191.43 C199.00 191.08 200.00 190.73 201.00 190.38 C202.00 190.03 203.00 189.69 204.00 189.35 C205.00 189.01 206.00 188.66 207.00 188.32 C208.00 187.98 209.00 187.64 210.00 187.30 C211.00 186.96 212.00 186.62 213.00 186.28 C214.00 185.94 215.00 185.61 216.00 185.27 C217.00 184.93 218.00 184.60 219.00 184.26 C220.00 183.93 221.00 183.59 222.00 183.26 C223.00 182.92 224.00 182.59 225.00 182.26 C226.00 181.93 227.00 181.60 228.00 181.26 C229.00 180.93 230.00 180.60 231.00 180.28 C232.00 179.95 233.00 179.62 234.00 179.29 C235.00 178.96 236.00 178.64 237.00 178.31 C238.00 177.98 239.00 177.66 240.00 177.33 C241.00 177.01 242.00 176.68 243.00 176.36 C244.00 176.04 245.00 175.71 246.00 175.39 C247.00 175.07 248.00 174.75 249.00 174.43 C250.00 174.11 251.00 173.79 252.00 173.47 C253.00 173.15 254.00 172.83 255.00 172.51 C256.00 172.19 257.00 171.88 258.00 171.56 C259.00 171.24 260.00 170.93 261.00 170.61 C262.00 170.30 263.00 169.98 264.00 169.67 C265.00 169.35 266.00 169.04 267.00 168.73 C268.00 168.41 269.00 168.10 270.00 167.79 C271.00 167.48 272.00 167.17 273.00 166.86 C274.00 166.55 275.00 166.24 276.00 165.93 C277.00 165.62 278.00 165.31 279.00 165.00 C280.00 164.70 281.00 164.39 282.00 164.08 C283.00 163.78 284.00 163.47 285.00 163.16 C286.00 162.86 287.00 162.55 288.00 162.25 C289.00 161.94 290.00 161.64 291.00 161.34 C292.00 161.04 293.00 160.73 294.00 160.43 C295.00 160.13 296.00 159.83 297.00 159.53 C298.00 159.23 299.00 158.93 300.00 158.63 C301.00 158.33 302.00 158.03 303.00 157.73 C304.00 157.43 305.00 157.13 306.00 156.84 C307.00 156.54 308.00 156.24 309.00 155.94 C310.00 155.65 311.00 155.35 312.00 155.06 C313.00 154.76 314.00 154.47 315.00 154.17 C316.00 153.88 317.00 153.59 318.00 153.29 C319.00 153.00 320.00 152.71 321.00 152.42 C322.00 152.12 323.00 151.83 324.00 151.54 C325.00 151.25 326.00 150.96 327.00 150.67 C328.00 150.38 329.00 150.09 330.00 149.80 C331.00 149.51 332.00 149.23 333.00 148.94 C334.00 148.65 335.00 148.36 336.00 148.08 C337.00 147.79 338.00 147.50 339.00 147.22 C340.00 146.93 341.00 146.65 342.00 146.36 C343.00 146.08 344.00 145.79 345.00 145.51 C346.00 145.23 347.00 144.94 348.00 144.66 C349.00 144.38 350.00 144.10 351.00 143.81 C352.00 143.53 353.00 143.25 354.00 142.97 C355.00 142.69 356.00 142.41 357.00 142.13 C358.00 141.85 359.00 141.57 360.00 141.29 C361.00 141.01 362.00 140.74 363.00 140.46 C364.00 140.18 365.00 139.90 366.00 139.63 C367.00 139.35 368.00 139.07 369.00 138.80 C370.00 138.52 371.00 138.25 372.00 137.97 C373.00 137.70 374.00 137.42 375.00 137.15 C376.00 136.87 377.00 136.60 378.00 136.33 C379.00 136.06 380.00 135.78 381.00 135.51 C382.00 135.24 383.00 134.97 384.00 134.70 C385.00 134.42 386.00 134.15 387.00 133.88 C388.00 133.61 389.00 133.34 390.00 133.07 C391.00 132.80 392.00 132.54 393.00 132.27 C394.00 132.00 395.00 131.73 396.00 131.46 C397.00 131.20 398.00 130.93 399.00 130.66 C400.00 130.40 401.00 130.13 402.00 129.86 C403.00 129.60 404.00 129.33 405.00 129.07 C406.00 128.80 407.00 128.54 408.00 128.27 C409.00 128.01 410.00 127.75 411.00 127.48 C412.00 127.22 413.00 126.96 414.00 126.70 C415.00 126.43 416.00 126.17 417.00 125.91 C418.00 125.65 419.00 125.39 420.00 125.13 C421.00 124.87 422.00 124.61 423.00 124.35 C424.00 124.09 425.00 123.83 426.00 123.57 C427.00 123.31 428.00 123.05 429.00 122.79 C430.00 122.53 431.00 122.28 432.00 122.02 C433.00 121.76 434.00 121.51 435.00 121.25 C436.00 120.99 437.42 120.63 438.00 120.48 C438.58 120.33 438.42 120.38 438.50 120.35" stroke="#0ba44c" stroke-width="1.80"/>
<path d="M49.00 264.50 C49.42 263.98 50.50 262.28 51.50 261.40 C52.50 260.52 53.58 259.94 55.00 259.20 C56.42 258.46 58.67 257.60 60.00 256.96 C61.33 256.32 62.00 255.87 63.00 255.35 C64.00 254.83 65.00 254.33 66.00 253.84 C67.00 253.35 68.00 252.87 69.00 252.40 C70.00 251.94 71.00 251.48 72.00 251.03 C73.00 250.58 74.00 250.17 75.00 249.70 C76.00 249.23 77.00 248.72 78.00 248.24 C79.00 247.75 80.00 247.28 81.00 246.81 C82.00 246.34 83.00 245.86 84.00 245.41 C85.00 244.97 86.00 244.56 87.00 244.15 C88.00 243.75 89.00 243.36 90.00 242.97 C91.00 242.58 92.00 242.19 93.00 241.81 C94.00 241.43 95.00 241.05 96.00 240.67 C97.00 240.30 98.00 239.93 99.00 239.55 C100.00 239.18 101.00 238.81 102.00 238.44 C103.00 238.08 104.00 237.71 105.00 237.35 C106.00 236.99 107.00 236.62 108.00 236.27 C109.00 235.91 110.00 235.56 111.00 235.22 C112.00 234.88 113.00 234.56 114.00 234.23 C115.00 233.90 116.00 233.58 117.00 233.25 C118.00 232.93 119.00 232.61 120.00 232.29 C121.00 231.96 122.00 231.65 123.00 231.33 C124.00 231.01 125.00 230.70 126.00 230.38 C127.00 230.07 128.00 229.76 129.00 229.44 C130.00 229.13 131.00 228.82 132.00 228.52 C133.00 228.21 134.00 227.90 135.00 227.59 C136.00 227.29 137.00 226.98 138.00 226.68 C139.00 226.38 140.00 226.08 141.00 225.78 C142.00 225.48 143.00 225.18 144.00 224.88 C145.00 224.58 146.00 224.28 147.00 223.99 C148.00 223.69 149.00 223.39 150.00 223.10 C151.00 222.81 152.00 222.51 153.00 222.22 C154.00 221.93 155.00 221.64 156.00 221.35 C157.00 221.06 158.00 220.78 159.00 220.48 C160.00 220.18 161.00 219.87 162.00 219.55 C163.00 219.24 164.00 218.92 165.00 218.60 C166.00 218.28 167.00 217.97 168.00 217.65 C169.00 217.34 170.00 217.02 171.00 216.71 C172.00 216.39 173.00 216.08 174.00 215.77 C175.00 215.46 176.00 215.15 177.00 214.84 C178.00 214.52 179.00 214.21 180.00 213.91 C181.00 213.60 182.00 213.29 183.00 212.98 C184.00 212.67 185.00 212.36 186.00 212.06 C187.00 211.75 188.00 211.44 189.00 211.14 C190.00 210.83 191.00 210.53 192.00 210.23 C193.00 209.92 194.00 209.62 195.00 209.31 C196.00 209.01 197.00 208.71 198.00 208.41 C199.00 208.11 200.00 207.81 201.00 207.52 C202.00 207.24 203.00 206.96 204.00 206.68 C205.00 206.40 206.00 206.12 207.00 205.85 C208.00 205.57 209.00 205.29 210.00 205.01 C211.00 204.73 212.00 204.46 213.00 204.18 C214.00 203.90 215.00 203.63 216.00 203.35 C217.00 203.08 218.00 202.80 219.00 202.53 C220.00 202.25 221.00 201.98 222.00 201.70 C223.00 201.43 224.00 201.16 225.00 200.88 C226.00 200.61 227.00 200.34 228.00 200.07 C229.00 199.79 230.00 199.52 231.00 199.25 C232.00 198.98 233.00 198.71 234.00 198.44 C235.00 198.17 236.00 197.90 237.00 197.63 C238.00 197.36 239.00 197.09 240.00 196.82 C241.00 196.55 242.00 196.28 243.00 196.01 C244.00 195.75 245.00 195.48 246.00 195.21 C247.00 194.94 248.00 194.68 249.00 194.41 C250.00 194.14 251.00 193.88 252.00 193.61 C253.00 193.35 254.00 193.08 255.00 192.82 C256.00 192.55 257.00 192.29 258.00 192.02 C259.00 191.76 260.00 191.49 261.00 191.23 C262.00 190.96 263.00 190.70 264.00 190.44 C265.00 190.17 266.00 189.91 267.00 189.65 C268.00 189.39 269.00 189.12 270.00 188.86 C271.00 188.60 272.00 188.34 273.00 188.08 C274.00 187.82 275.00 187.55 276.00 187.29 C277.00 187.03 278.00 186.77 279.00 186.51 C280.00 186.25 281.00 185.99 282.00 185.73 C283.00 185.47 284.00 185.21 285.00 184.95 C286.00 184.69 287.00 184.44 288.00 184.18 C289.00 183.92 290.00 183.66 291.00 183.40 C292.00 183.14 293.00 182.89 294.00 182.63 C295.00 182.37 296.00 182.11 297.00 181.86 C298.00 181.60 299.00 181.34 300.00 181.09 C301.00 180.83 302.00 180.57 303.00 180.32 C304.00 180.06 305.00 179.81 306.00 179.55 C307.00 179.29 308.00 179.04 309.00 178.78 C310.00 178.53 311.00 178.27 312.00 178.02 C313.00 177.77 314.00 177.51 315.00 177.26 C316.00 177.00 317.00 176.75 318.00 176.49 C319.00 176.24 320.00 175.99 321.00 175.73 C322.00 175.48 323.00 175.23 324.00 174.97 C325.00 174.72 326.00 174.47 327.00 174.22 C328.00 173.96 329.00 173.71 330.00 173.46 C331.00 173.21 332.00 172.96 333.00 172.70 C334.00 172.45 335.00 172.20 336.00 171.95 C337.00 171.70 338.00 171.45 339.00 171.20 C340.00 170.95 341.00 170.70 342.00 170.45 C343.00 170.20 344.00 169.95 345.00 169.70 C346.00 169.45 347.00 169.20 348.00 168.95 C349.00 168.70 350.00 168.45 351.00 168.20 C352.00 167.95 353.00 167.70 354.00 167.45 C355.00 167.20 356.00 166.95 357.00 166.70 C358.00 166.45 359.00 166.21 360.00 165.96 C361.00 165.71 362.00 165.46 363.00 165.21 C364.00 164.97 365.00 164.72 366.00 164.47 C367.00 164.22 368.00 163.98 369.00 163.73 C370.00 163.48 371.00 163.23 372.00 162.99 C373.00 162.74 374.00 162.49 375.00 162.25 C376.00 162.00 377.00 161.75 378.00 161.51 C379.00 161.26 380.00 161.02 381.00 160.77 C382.00 160.52 383.00 160.28 384.00 160.03 C385.00 159.79 386.00 159.54 387.00 159.30 C388.00 159.05 389.00 158.81 390.00 158.56 C391.00 158.32 392.00 158.07 393.00 157.83 C394.00 157.58 395.00 157.34 396.00 157.09 C397.00 156.85 398.00 156.60 399.00 156.36 C400.00 156.12 401.00 155.87 402.00 155.63 C403.00 155.38 404.00 155.14 405.00 154.90 C406.00 154.65 407.00 154.41 408.00 154.17 C409.00 153.92 410.00 153.68 411.00 153.44 C412.00 153.19 413.00 152.95 414.00 152.71 C415.00 152.47 416.00 152.22 417.00 151.98 C418.00 151.74 419.00 151.50 420.00 151.25 C421.00 151.01 422.00 150.77 423.00 150.53 C424.00 150.29 425.00 150.04 426.00 149.80 C427.00 149.56 428.00 149.32 429.00 149.08 C430.00 148.84 431.00 148.59 432.00 148.35 C433.00 148.11 434.00 147.87 435.00 147.63 C436.00 147.39 437.42 147.05 438.00 146.91 C438.58 146.77 438.42 146.81 438.50 146.79" stroke="#0ba44c" stroke-width="1.80"/>
<path d="M49.00 270.50 C49.42 269.65 50.50 266.58 51.50 265.40 C52.50 264.22 53.58 264.09 55.00 263.40 C56.42 262.71 58.67 261.82 60.00 261.26 C61.33 260.69 62.00 260.41 63.00 260.00 C64.00 259.59 65.00 259.20 66.00 258.81 C67.00 258.42 68.00 258.03 69.00 257.66 C70.00 257.28 71.00 256.91 72.00 256.54 C73.00 256.18 74.00 255.82 75.00 255.46 C76.00 255.11 77.00 254.75 78.00 254.41 C79.00 254.06 80.00 253.72 81.00 253.38 C82.00 253.04 83.00 252.70 84.00 252.37 C85.00 252.03 86.00 251.70 87.00 251.38 C88.00 251.05 89.00 250.72 90.00 250.40 C91.00 250.08 92.00 249.76 93.00 249.44 C94.00 249.12 95.00 248.81 96.00 248.50 C97.00 248.18 98.00 247.87 99.00 247.56 C100.00 247.25 101.00 246.95 102.00 246.64 C103.00 246.34 104.00 246.04 105.00 245.73 C106.00 245.43 107.00 245.13 108.00 244.83 C109.00 244.54 110.00 244.24 111.00 243.94 C112.00 243.65 113.00 243.36 114.00 243.06 C115.00 242.77 116.00 242.48 117.00 242.19 C118.00 241.90 119.00 241.61 120.00 241.33 C121.00 241.04 122.00 240.76 123.00 240.47 C124.00 240.19 125.00 239.90 126.00 239.62 C127.00 239.34 128.00 239.06 129.00 238.78 C130.00 238.50 131.00 238.22 132.00 237.94 C133.00 237.67 134.00 237.39 135.00 237.12 C136.00 236.84 137.00 236.57 138.00 236.29 C139.00 236.02 140.00 235.75 141.00 235.47 C142.00 235.20 143.00 234.93 144.00 234.66 C145.00 234.39 146.00 234.12 147.00 233.86 C148.00 233.59 149.00 233.32 150.00 233.05 C151.00 232.79 152.00 232.52 153.00 232.26 C154.00 231.99 155.00 231.73 156.00 231.47 C157.00 231.20 158.00 230.94 159.00 230.68 C160.00 230.42 161.00 230.16 162.00 229.90 C163.00 229.64 164.00 229.38 165.00 229.12 C166.00 228.86 167.00 228.60 168.00 228.34 C169.00 228.09 170.00 227.83 171.00 227.57 C172.00 227.32 173.00 227.06 174.00 226.81 C175.00 226.55 176.00 226.30 177.00 226.05 C178.00 225.79 179.00 225.54 180.00 225.29 C181.00 225.04 182.00 224.78 183.00 224.53 C184.00 224.28 185.00 224.03 186.00 223.78 C187.00 223.53 188.00 223.28 189.00 223.03 C190.00 222.79 191.00 222.54 192.00 222.29 C193.00 222.04 194.00 221.79 195.00 221.55 C196.00 221.30 197.00 221.06 198.00 220.81 C199.00 220.57 200.00 220.32 201.00 220.08 C202.00 219.83 203.00 219.59 204.00 219.34 C205.00 219.10 206.00 218.86 207.00 218.62 C208.00 218.37 209.00 218.13 210.00 217.89 C211.00 217.65 212.00 217.41 213.00 217.17 C214.00 216.93 215.00 216.69 216.00 216.45 C217.00 216.21 218.00 215.97 219.00 215.73 C220.00 215.49 221.00 215.25 222.00 215.01 C223.00 214.78 224.00 214.54 225.00 214.30 C226.00 214.07 227.00 213.83 228.00 213.59 C229.00 213.36 230.00 213.12 231.00 212.89 C232.00 212.65 233.00 212.42 234.00 212.18 C235.00 211.95 236.00 211.71 237.00 211.48 C238.00 211.25 239.00 211.01 240.00 210.78 C241.00 210.55 242.00 210.32 243.00 210.08 C244.00 209.85 245.00 209.62 246.00 209.39 C247.00 209.16 248.00 208.93 249.00 208.70 C250.00 208.47 251.00 208.24 252.00 208.01 C253.00 207.78 254.00 207.55 255.00 207.32 C256.00 207.09 257.00 206.86 258.00 206.63 C259.00 206.41 260.00 206.18 261.00 205.95 C262.00 205.72 263.00 205.50 264.00 205.27 C265.00 205.04 266.00 204.82 267.00 204.59 C268.00 204.36 269.00 204.14 270.00 203.91 C271.00 203.69 272.00 203.46 273.00 203.24 C274.00 203.01 275.00 202.79 276.00 202.56 C277.00 202.34 278.00 202.12 279.00 201.89 C280.00 201.67 281.00 201.45 282.00 201.22 C283.00 201.00 284.00 200.78 285.00 200.56 C286.00 200.33 287.00 200.11 288.00 199.89 C289.00 199.67 290.00 199.45 291.00 199.23 C292.00 199.01 293.00 198.79 294.00 198.57 C295.00 198.34 296.00 198.12 297.00 197.91 C298.00 197.69 299.00 197.47 300.00 197.25 C301.00 197.03 302.00 196.81 303.00 196.59 C304.00 196.37 305.00 196.15 306.00 195.94 C307.00 195.72 308.00 195.50 309.00 195.28 C310.00 195.07 311.00 194.85 312.00 194.63 C313.00 194.42 314.00 194.20 315.00 193.98 C316.00 193.77 317.00 193.55 318.00 193.34 C319.00 193.12 320.00 192.90 321.00 192.69 C322.00 192.47 323.00 192.26 324.00 192.04 C325.00 191.83 326.00 191.62 327.00 191.40 C328.00 191.19 329.00 190.97 330.00 190.76 C331.00 190.55 332.00 190.33 333.00 190.12 C334.00 189.91 335.00 189.70 336.00 189.48 C337.00 189.27 338.00 189.06 339.00 188.85 C340.00 188.63 341.00 188.42 342.00 188.21 C343.00 188.00 344.00 187.79 345.00 187.58 C346.00 187.37 347.00 187.16 348.00 186.95 C349.00 186.74 350.00 186.53 351.00 186.32 C352.00 186.11 353.00 185.90 354.00 185.69 C355.00 185.48 356.00 185.27 357.00 185.06 C358.00 184.85 359.00 184.64 360.00 184.43 C361.00 184.22 362.00 184.02 363.00 183.81 C364.00 183.60 365.00 183.39 366.00 183.19 C367.00 182.98 368.00 182.77 369.00 182.56 C370.00 182.36 371.00 182.15 372.00 181.94 C373.00 181.74 374.00 181.53 375.00 181.32 C376.00 181.12 377.00 180.91 378.00 180.71 C379.00 180.50 380.00 180.30 381.00 180.09 C382.00 179.88 383.00 179.68 384.00 179.47 C385.00 179.27 386.00 179.07 387.00 178.86 C388.00 178.66 389.00 178.45 390.00 178.25 C391.00 178.05 392.00 177.84 393.00 177.64 C394.00 177.43 395.00 177.23 396.00 177.03 C397.00 176.83 398.00 176.62 399.00 176.42 C400.00 176.22 401.00 176.01 402.00 175.81 C403.00 175.61 404.00 175.41 405.00 175.21 C406.00 175.01 407.00 174.80 408.00 174.60 C409.00 174.40 410.00 174.20 411.00 174.00 C412.00 173.80 413.00 173.60 414.00 173.40 C415.00 173.20 416.00 173.00 417.00 172.80 C418.00 172.60 419.00 172.40 420.00 172.20 C421.00 172.00 422.00 171.80 423.00 171.60 C424.00 171.40 425.00 171.20 426.00 171.00 C427.00 170.80 428.00 170.60 429.00 170.40 C430.00 170.21 431.00 170.01 432.00 169.81 C433.00 169.61 434.00 169.41 435.00 169.22 C436.00 169.02 437.42 168.74 438.00 168.62 C438.58 168.51 438.42 168.54 438.50 168.52" stroke="#0ba44c" stroke-width="1.80"/>
<path d="M47.30 150.00 C47.38 154.33 47.60 170.17 47.80 176.00 C48.00 181.83 48.27 182.17 48.50 185.00 C48.73 187.83 48.97 189.83 49.20 193.00 C49.43 196.17 49.62 199.88 49.90 204.00 C50.18 208.12 50.50 214.50 50.90 217.70 C51.30 220.90 51.85 221.85 52.30 223.20 C52.75 224.55 53.10 225.18 53.60 225.80 C54.10 226.42 54.65 226.77 55.30 226.90 C55.95 227.03 56.72 226.82 57.50 226.60 C58.28 226.38 59.07 226.05 60.00 225.60 C60.93 225.15 61.85 224.77 63.10 223.90 C64.35 223.03 65.65 221.82 67.50 220.40 C69.35 218.98 72.17 216.83 74.20 215.40 C76.23 213.97 77.85 213.00 79.70 211.80 C81.55 210.60 83.92 209.06 85.30 208.20 C86.68 207.34 87.05 207.18 88.00 206.62 C88.95 206.07 90.00 205.50 91.00 204.88 C92.00 204.27 93.00 203.58 94.00 202.95 C95.00 202.32 96.00 201.69 97.00 201.08 C98.00 200.46 99.00 199.87 100.00 199.26 C101.00 198.66 102.00 198.04 103.00 197.44 C104.00 196.84 105.00 196.25 106.00 195.66 C107.00 195.08 108.00 194.52 109.00 193.93 C110.00 193.34 111.00 192.73 112.00 192.12 C113.00 191.51 114.00 190.89 115.00 190.29 C116.00 189.69 117.00 189.09 118.00 188.49 C119.00 187.90 120.00 187.31 121.00 186.73 C122.00 186.15 123.00 185.58 124.00 184.99 C125.00 184.41 126.00 183.82 127.00 183.23 C128.00 182.64 129.00 182.04 130.00 181.46 C131.00 180.87 132.00 180.29 133.00 179.71 C134.00 179.13 135.00 178.56 136.00 177.99 C137.00 177.42 138.00 176.85 139.00 176.29 C140.00 175.72 141.00 175.16 142.00 174.60 C143.00 174.05 144.00 173.49 145.00 172.94 C146.00 172.39 147.00 171.84 148.00 171.30 C149.00 170.75 150.00 170.21 151.00 169.68 C152.00 169.14 153.00 168.61 154.00 168.08 C155.00 167.56 156.00 167.03 157.00 166.51 C158.00 165.98 159.00 165.46 160.00 164.95 C161.00 164.43 162.00 163.91 163.00 163.40 C164.00 162.88 165.00 162.37 166.00 161.86 C167.00 161.35 168.00 160.85 169.00 160.34 C170.00 159.84 171.00 159.33 172.00 158.83 C173.00 158.33 174.00 157.83 175.00 157.33 C176.00 156.84 177.00 156.34 178.00 155.85 C179.00 155.35 180.00 154.86 181.00 154.37 C182.00 153.88 183.00 153.39 184.00 152.91 C185.00 152.42 186.00 151.94 187.00 151.45 C188.00 150.97 189.00 150.49 190.00 150.01 C191.00 149.53 192.00 149.05 193.00 148.57 C194.00 148.09 195.00 147.62 196.00 147.14 C197.00 146.67 198.00 146.19 199.00 145.72 C200.00 145.26 201.00 144.80 202.00 144.34 C203.00 143.88 204.00 143.43 205.00 142.98 C206.00 142.53 207.00 142.08 208.00 141.63 C209.00 141.18 210.00 140.73 211.00 140.28 C212.00 139.83 213.00 139.39 214.00 138.94 C215.00 138.50 216.00 138.05 217.00 137.61 C218.00 137.17 219.00 136.72 220.00 136.28 C221.00 135.84 222.00 135.40 223.00 134.96 C224.00 134.52 225.00 134.09 226.00 133.65 C227.00 133.21 228.00 132.78 229.00 132.34 C230.00 131.91 231.00 131.47 232.00 131.04 C233.00 130.61 234.00 130.18 235.00 129.74 C236.00 129.31 237.00 128.88 238.00 128.45 C239.00 128.02 240.00 127.60 241.00 127.17 C242.00 126.74 243.00 126.31 244.00 125.89 C245.00 125.46 246.00 125.03 247.00 124.61 C248.00 124.18 249.00 123.76 250.00 123.34 C251.00 122.91 252.00 122.49 253.00 122.07 C254.00 121.65 255.00 121.23 256.00 120.81 C257.00 120.39 258.00 119.97 259.00 119.55 C260.00 119.13 261.00 118.71 262.00 118.29 C263.00 117.88 264.00 117.46 265.00 117.04 C266.00 116.63 267.00 116.21 268.00 115.79 C269.00 115.38 270.00 114.96 271.00 114.55 C272.00 114.13 273.00 113.71 274.00 113.29 C275.00 112.87 276.00 112.45 277.00 112.03 C278.00 111.62 279.00 111.20 280.00 110.78 C281.00 110.37 282.00 109.95 283.00 109.53 C284.00 109.12 285.00 108.70 286.00 108.29 C287.00 107.87 288.00 107.46 289.00 107.05 C290.00 106.63 291.00 106.22 292.00 105.81 C293.00 105.40 294.00 104.98 295.00 104.57 C296.00 104.16 297.00 103.75 298.00 103.34 C299.00 102.93 300.00 102.52 301.00 102.11 C302.00 101.70 303.00 101.29 304.00 100.88 C305.00 100.47 306.00 100.06 307.00 99.65 C308.00 99.25 309.00 98.84 310.00 98.43 C311.00 98.02 312.00 97.62 313.00 97.21 C314.00 96.80 315.00 96.40 316.00 95.99 C317.00 95.59 318.00 95.18 319.00 94.78 C320.00 94.37 321.00 93.97 322.00 93.56 C323.00 93.16 324.00 92.75 325.00 92.35 C326.00 91.95 327.00 91.54 328.00 91.14 C329.00 90.74 330.00 90.34 331.00 89.94 C332.00 89.54 333.00 89.15 334.00 88.76 C335.00 88.37 336.00 87.98 337.00 87.59 C338.00 87.19 339.00 86.80 340.00 86.41 C341.00 86.02 342.00 85.63 343.00 85.24 C344.00 84.85 345.00 84.46 346.00 84.07 C347.00 83.68 348.00 83.29 349.00 82.90 C350.00 82.51 351.00 82.12 352.00 81.73 C353.00 81.34 354.00 80.95 355.00 80.56 C356.00 80.17 357.00 79.79 358.00 79.40 C359.00 79.01 360.00 78.62 361.00 78.23 C362.00 77.85 363.00 77.46 364.00 77.07 C365.00 76.68 366.00 76.30 367.00 75.91 C368.00 75.52 369.00 75.14 370.00 74.75 C371.00 74.36 372.00 73.98 373.00 73.59 C374.00 73.21 375.00 72.82 376.00 72.43 C377.00 72.05 378.00 71.66 379.00 71.28 C380.00 70.89 381.00 70.51 382.00 70.12 C383.00 69.74 384.00 69.35 385.00 68.97 C386.00 68.59 387.00 68.20 388.00 67.82 C389.00 67.43 390.00 67.05 391.00 66.66 C392.00 66.28 393.00 65.90 394.00 65.51 C395.00 65.13 396.00 64.74 397.00 64.35 C398.00 63.96 399.00 63.57 400.00 63.18 C401.00 62.79 402.00 62.40 403.00 62.00 C404.00 61.61 405.00 61.22 406.00 60.83 C407.00 60.44 408.00 60.05 409.00 59.66 C410.00 59.27 411.00 58.89 412.00 58.50 C413.00 58.11 414.00 57.72 415.00 57.33 C416.00 56.94 417.00 56.55 418.00 56.16 C419.00 55.77 420.00 55.38 421.00 54.99 C422.00 54.60 423.00 54.22 424.00 53.83 C425.00 53.44 426.00 53.05 427.00 52.66 C428.00 52.27 429.00 51.88 430.00 51.50 C431.00 51.11 432.00 50.72 433.00 50.33 C434.00 49.94 435.08 49.52 436.00 49.17 C436.92 48.81 438.08 48.36 438.50 48.20" stroke="#2f449f" stroke-width="1.80"/>
<path d="M50.00 272.00 C50.03 270.33 50.12 264.83 50.20 262.00 C50.28 259.17 50.33 256.62 50.50 255.00 C50.67 253.38 50.78 252.92 51.20 252.30 C51.62 251.68 52.28 251.62 53.00 251.30 C53.72 250.98 54.55 250.80 55.50 250.40 C56.45 250.00 57.43 249.72 58.70 248.90 C59.97 248.08 61.45 246.70 63.10 245.50 C64.75 244.30 66.75 242.88 68.60 241.70 C70.45 240.52 72.35 239.50 74.20 238.40 C76.05 237.30 77.90 236.18 79.70 235.10 C81.50 234.02 83.62 232.76 85.00 231.90 C86.38 231.05 87.00 230.60 88.00 229.97 C89.00 229.34 90.00 228.72 91.00 228.10 C92.00 227.49 93.00 226.88 94.00 226.29 C95.00 225.69 96.00 225.10 97.00 224.52 C98.00 223.94 99.00 223.37 100.00 222.80 C101.00 222.24 102.00 221.68 103.00 221.13 C104.00 220.57 105.00 220.03 106.00 219.48 C107.00 218.94 108.00 218.40 109.00 217.88 C110.00 217.36 111.00 216.86 112.00 216.37 C113.00 215.88 114.00 215.40 115.00 214.92 C116.00 214.45 117.00 213.97 118.00 213.50 C119.00 213.03 120.00 212.57 121.00 212.11 C122.00 211.65 123.00 211.20 124.00 210.74 C125.00 210.28 126.00 209.81 127.00 209.35 C128.00 208.88 129.00 208.42 130.00 207.96 C131.00 207.49 132.00 207.04 133.00 206.58 C134.00 206.13 135.00 205.68 136.00 205.23 C137.00 204.78 138.00 204.33 139.00 203.89 C140.00 203.45 141.00 203.00 142.00 202.57 C143.00 202.13 144.00 201.69 145.00 201.26 C146.00 200.83 147.00 200.40 148.00 199.97 C149.00 199.53 150.00 199.10 151.00 198.65 C152.00 198.20 153.00 197.73 154.00 197.28 C155.00 196.82 156.00 196.37 157.00 195.92 C158.00 195.46 159.00 195.01 160.00 194.56 C161.00 194.12 162.00 193.67 163.00 193.23 C164.00 192.78 165.00 192.34 166.00 191.90 C167.00 191.45 168.00 191.01 169.00 190.58 C170.00 190.14 171.00 189.70 172.00 189.27 C173.00 188.83 174.00 188.40 175.00 187.97 C176.00 187.53 177.00 187.10 178.00 186.67 C179.00 186.24 180.00 185.82 181.00 185.39 C182.00 184.96 183.00 184.54 184.00 184.11 C185.00 183.69 186.00 183.26 187.00 182.84 C188.00 182.42 189.00 182.00 190.00 181.58 C191.00 181.16 192.00 180.74 193.00 180.32 C194.00 179.91 195.00 179.49 196.00 179.07 C197.00 178.66 198.00 178.25 199.00 177.83 C200.00 177.42 201.00 177.01 202.00 176.59 C203.00 176.18 204.00 175.76 205.00 175.36 C206.00 174.97 207.00 174.61 208.00 174.23 C209.00 173.85 210.00 173.47 211.00 173.10 C212.00 172.72 213.00 172.35 214.00 171.97 C215.00 171.60 216.00 171.23 217.00 170.85 C218.00 170.48 219.00 170.11 220.00 169.74 C221.00 169.37 222.00 169.00 223.00 168.63 C224.00 168.26 225.00 167.89 226.00 167.52 C227.00 167.15 228.00 166.78 229.00 166.42 C230.00 166.05 231.00 165.68 232.00 165.32 C233.00 164.95 234.00 164.60 235.00 164.22 C236.00 163.84 237.00 163.43 238.00 163.04 C239.00 162.65 240.00 162.25 241.00 161.86 C242.00 161.47 243.00 161.08 244.00 160.68 C245.00 160.29 246.00 159.90 247.00 159.51 C248.00 159.12 249.00 158.73 250.00 158.34 C251.00 157.95 252.00 157.56 253.00 157.17 C254.00 156.78 255.00 156.40 256.00 156.01 C257.00 155.62 258.00 155.22 259.00 154.85 C260.00 154.47 261.00 154.11 262.00 153.74 C263.00 153.38 264.00 153.03 265.00 152.67 C266.00 152.31 267.00 151.96 268.00 151.60 C269.00 151.24 270.00 150.89 271.00 150.53 C272.00 150.18 273.00 149.82 274.00 149.47 C275.00 149.11 276.00 148.76 277.00 148.41 C278.00 148.05 279.00 147.70 280.00 147.34 C281.00 146.99 282.00 146.64 283.00 146.29 C284.00 145.93 285.00 145.58 286.00 145.23 C287.00 144.88 288.00 144.52 289.00 144.17 C290.00 143.82 291.00 143.47 292.00 143.12 C293.00 142.77 294.00 142.42 295.00 142.07 C296.00 141.72 297.00 141.37 298.00 141.02 C299.00 140.67 300.00 140.32 301.00 139.97 C302.00 139.62 303.00 139.27 304.00 138.92 C305.00 138.57 306.00 138.22 307.00 137.87 C308.00 137.53 309.00 137.18 310.00 136.83 C311.00 136.48 312.00 136.13 313.00 135.79 C314.00 135.44 315.00 135.09 316.00 134.74 C317.00 134.40 318.00 134.05 319.00 133.70 C320.00 133.36 321.00 133.01 322.00 132.66 C323.00 132.32 324.00 131.97 325.00 131.62 C326.00 131.28 327.00 130.93 328.00 130.59 C329.00 130.24 330.00 129.90 331.00 129.56 C332.00 129.22 333.00 128.88 334.00 128.54 C335.00 128.20 336.00 127.87 337.00 127.53 C338.00 127.19 339.00 126.85 340.00 126.52 C341.00 126.18 342.00 125.84 343.00 125.50 C344.00 125.17 345.00 124.83 346.00 124.49 C347.00 124.15 348.00 123.82 349.00 123.48 C350.00 123.14 351.00 122.81 352.00 122.47 C353.00 122.13 354.00 121.80 355.00 121.46 C356.00 121.12 357.00 120.79 358.00 120.45 C359.00 120.12 360.00 119.78 361.00 119.44 C362.00 119.11 363.00 118.77 364.00 118.44 C365.00 118.10 366.00 117.76 367.00 117.43 C368.00 117.09 369.00 116.76 370.00 116.42 C371.00 116.08 372.00 115.75 373.00 115.41 C374.00 115.08 375.00 114.74 376.00 114.41 C377.00 114.07 378.00 113.74 379.00 113.40 C380.00 113.07 381.00 112.73 382.00 112.40 C383.00 112.06 384.00 111.73 385.00 111.39 C386.00 111.06 387.00 110.72 388.00 110.39 C389.00 110.05 390.00 109.72 391.00 109.38 C392.00 109.05 393.00 108.71 394.00 108.38 C395.00 108.04 396.00 107.71 397.00 107.37 C398.00 107.04 399.00 106.70 400.00 106.37 C401.00 106.03 402.00 105.68 403.00 105.34 C404.00 105.00 405.00 104.66 406.00 104.32 C407.00 103.98 408.00 103.64 409.00 103.30 C410.00 102.95 411.00 102.61 412.00 102.27 C413.00 101.93 414.00 101.59 415.00 101.25 C416.00 100.91 417.00 100.57 418.00 100.22 C419.00 99.88 420.00 99.54 421.00 99.20 C422.00 98.86 423.00 98.52 424.00 98.18 C425.00 97.84 426.00 97.50 427.00 97.15 C428.00 96.81 429.00 96.47 430.00 96.13 C431.00 95.79 432.00 95.45 433.00 95.11 C434.00 94.77 435.08 94.40 436.00 94.08 C436.92 93.77 438.08 93.37 438.50 93.23" stroke="#2f449f" stroke-width="1.80"/>
<path d="M121.00 201.13 C121.50 200.88 123.00 200.13 124.00 199.63 C125.00 199.12 126.00 198.62 127.00 198.11 C128.00 197.61 129.00 197.11 130.00 196.60 C131.00 196.09 132.00 195.57 133.00 195.07 C134.00 194.56 135.00 194.05 136.00 193.55 C137.00 193.05 138.00 192.56 139.00 192.06 C140.00 191.56 141.00 191.07 142.00 190.56 C143.00 190.06 144.00 189.54 145.00 189.04 C146.00 188.54 147.00 188.03 148.00 187.53 C149.00 187.04 150.00 186.54 151.00 186.05 C152.00 185.55 153.00 185.06 154.00 184.58 C155.00 184.09 156.00 183.60 157.00 183.12 C158.00 182.64 159.00 182.17 160.00 181.68 C161.00 181.19 162.00 180.68 163.00 180.19 C164.00 179.69 165.00 179.20 166.00 178.71 C167.00 178.22 168.00 177.73 169.00 177.25 C170.00 176.76 171.00 176.28 172.00 175.79 C173.00 175.31 174.00 174.83 175.00 174.35 C176.00 173.88 177.00 173.40 178.00 172.93 C179.00 172.45 180.00 171.98 181.00 171.51 C182.00 171.04 183.00 170.57 184.00 170.10 C185.00 169.63 186.00 169.17 187.00 168.71 C188.00 168.24 189.00 167.78 190.00 167.33 C191.00 166.87 192.00 166.41 193.00 165.95 C194.00 165.50 195.00 165.05 196.00 164.59 C197.00 164.14 198.00 163.68 199.00 163.24 C200.00 162.79 201.00 162.35 202.00 161.91 C203.00 161.47 204.00 161.04 205.00 160.61 C206.00 160.17 207.00 159.74 208.00 159.31 C209.00 158.87 210.00 158.44 211.00 158.01 C212.00 157.59 213.00 157.16 214.00 156.73 C215.00 156.30 216.00 155.88 217.00 155.45 C218.00 155.03 219.00 154.60 220.00 154.18 C221.00 153.76 222.00 153.34 223.00 152.91 C224.00 152.49 225.00 152.07 226.00 151.66 C227.00 151.24 228.00 150.82 229.00 150.40 C230.00 149.99 231.00 149.57 232.00 149.15 C233.00 148.74 234.00 148.33 235.00 147.91 C236.00 147.50 237.00 147.09 238.00 146.68 C239.00 146.26 240.00 145.85 241.00 145.44 C242.00 145.03 243.00 144.63 244.00 144.22 C245.00 143.81 246.00 143.40 247.00 143.00 C248.00 142.59 249.00 142.18 250.00 141.78 C251.00 141.37 252.00 140.97 253.00 140.57 C254.00 140.16 255.00 139.76 256.00 139.36 C257.00 138.95 258.00 138.55 259.00 138.15 C260.00 137.75 261.00 137.35 262.00 136.95 C263.00 136.55 264.00 136.15 265.00 135.75 C266.00 135.35 267.00 134.96 268.00 134.56 C269.00 134.16 270.00 133.77 271.00 133.37 C272.00 132.97 273.00 132.58 274.00 132.18 C275.00 131.79 276.00 131.40 277.00 131.00 C278.00 130.61 279.00 130.22 280.00 129.82 C281.00 129.43 282.00 129.04 283.00 128.65 C284.00 128.26 285.00 127.87 286.00 127.49 C287.00 127.11 288.00 126.73 289.00 126.36 C290.00 125.98 291.00 125.60 292.00 125.23 C293.00 124.85 294.00 124.47 295.00 124.10 C296.00 123.72 297.00 123.35 298.00 122.97 C299.00 122.60 300.00 122.23 301.00 121.85 C302.00 121.48 303.00 121.11 304.00 120.74 C305.00 120.37 306.00 120.00 307.00 119.63 C308.00 119.26 309.00 118.89 310.00 118.52 C311.00 118.15 312.00 117.78 313.00 117.41 C314.00 117.04 315.00 116.67 316.00 116.30 C317.00 115.93 318.00 115.56 319.00 115.19 C320.00 114.82 321.00 114.45 322.00 114.08 C323.00 113.71 324.00 113.34 325.00 112.97 C326.00 112.60 327.00 112.23 328.00 111.87 C329.00 111.50 330.00 111.13 331.00 110.76 C332.00 110.39 333.00 110.03 334.00 109.66 C335.00 109.29 336.00 108.93 337.00 108.56 C338.00 108.19 339.00 107.83 340.00 107.46 C341.00 107.10 342.00 106.73 343.00 106.37 C344.00 106.00 345.00 105.64 346.00 105.27 C347.00 104.91 348.00 104.55 349.00 104.18 C350.00 103.82 351.00 103.45 352.00 103.09 C353.00 102.73 354.00 102.37 355.00 102.00 C356.00 101.64 357.00 101.28 358.00 100.92 C359.00 100.55 360.00 100.19 361.00 99.83 C362.00 99.47 363.00 99.11 364.00 98.75 C365.00 98.39 366.00 98.02 367.00 97.66 C368.00 97.30 369.00 96.94 370.00 96.58 C371.00 96.22 372.00 95.86 373.00 95.50 C374.00 95.14 375.00 94.78 376.00 94.43 C377.00 94.07 378.00 93.71 379.00 93.35 C380.00 92.99 381.00 92.63 382.00 92.27 C383.00 91.91 384.00 91.56 385.00 91.20 C386.00 90.84 387.00 90.48 388.00 90.13 C389.00 89.77 390.00 89.41 391.00 89.05 C392.00 88.70 393.00 88.34 394.00 87.98 C395.00 87.63 396.00 87.27 397.00 86.91 C398.00 86.56 399.00 86.20 400.00 85.84 C401.00 85.49 402.00 85.13 403.00 84.78 C404.00 84.42 405.00 84.07 406.00 83.71 C407.00 83.36 408.00 83.00 409.00 82.65 C410.00 82.29 411.00 81.94 412.00 81.58 C413.00 81.23 414.00 80.87 415.00 80.52 C416.00 80.16 417.00 79.81 418.00 79.45 C419.00 79.10 420.00 78.75 421.00 78.39 C422.00 78.04 423.00 77.69 424.00 77.33 C425.00 76.98 426.00 76.62 427.00 76.27 C428.00 75.92 429.00 75.57 430.00 75.21 C431.00 74.86 432.00 74.51 433.00 74.15 C434.00 73.80 435.08 73.42 436.00 73.10 C436.92 72.77 438.08 72.36 438.50 72.21" stroke="#2f449f" stroke-width="1.80"/>
<path d="M47.90 245.50 L48.67 245.37 L49.78 245.19 L50.97 244.96 L52.00 244.70 L52.79 244.41 L53.49 244.08 L54.14 243.71 L54.80 243.30 L55.41 242.88 L55.97 242.44 L56.62 241.91 L57.50 241.20 L58.70 240.24 L60.12 239.09 L61.64 237.87 L63.10 236.70 L64.48 235.58 L65.85 234.47 L67.22 233.37 L68.60 232.30 L70.00 231.26 L71.40 230.25 L72.80 229.26 L74.20 228.30 L75.58 227.37 L76.95 226.46 L78.32 225.58 L79.70 224.70 L81.07 223.85 L82.42 223.03 L83.82 222.19 L85.30 221.30 L86.87 220.36 L88.50 219.38 L90.21 218.36 L92.00 217.30 L94.10 216.06 L96.42 214.70 L98.53 213.46 L100.00 212.60 L100.00 212.60 L99.10 213.16 L97.81 213.97 L96.37 214.88 L95.00 215.75 L93.75 216.55 L92.50 217.35 L91.25 218.17 L90.00 219.00 L88.75 219.85 L87.50 220.72 L86.25 221.60 L85.00 222.50 L83.73 223.45 L82.44 224.43 L81.18 225.40 L80.00 226.30 L78.93 227.10 L77.94 227.84 L76.98 228.55 L76.00 229.30 L75.00 230.08 L74.00 230.88 L73.00 231.69 L72.00 232.50 L71.00 233.31 L70.00 234.13 L69.00 234.96 L68.00 235.80 L67.01 236.66 L66.03 237.53 L65.03 238.41 L64.00 239.30 L62.93 240.20 L61.84 241.11 L60.72 242.01 L59.60 242.90 L58.44 243.81 L57.24 244.73 L56.08 245.58 L55.00 246.30 L54.05 246.86 L53.19 247.29 L52.36 247.63 L51.50 247.90 L50.52 248.07 L49.48 248.15 L48.55 248.18 L47.90 248.20 Z" fill="#e79ac6" stroke="none"/>
<path d="M57.50 241.20 L58.51 240.39 L59.96 239.22 L61.58 237.92 L63.10 236.70 L64.48 235.58 L65.85 234.47 L67.22 233.37 L68.60 232.30 L70.00 231.26 L71.40 230.25 L72.80 229.26 L74.20 228.30 L75.58 227.37 L76.95 226.46 L78.32 225.58 L79.70 224.70 L81.07 223.85 L82.42 223.03 L83.82 222.19 L85.30 221.30 L86.87 220.36 L88.50 219.38 L90.21 218.36 L92.00 217.30 L94.03 216.10 L96.23 214.80 L98.32 213.58 L100.00 212.60 L101.10 211.97 L101.81 211.58 L102.37 211.28 L103.00 210.94 L103.75 210.52 L104.50 210.11 L105.25 209.71 L106.00 209.30 L106.75 208.90 L107.50 208.50 L108.25 208.10 L109.00 207.70 L109.75 207.30 L110.50 206.91 L111.25 206.51 L112.00 206.12 L112.75 205.73 L113.50 205.34 L114.25 204.96 L115.00 204.57 L115.75 204.19 L116.50 203.82 L117.25 203.44 L118.00 203.06 L118.75 202.68 L119.50 202.30 L120.25 201.91 L121.00 201.53 L121.75 201.15 L122.50 200.78 L123.25 200.40 L124.00 200.03 L124.75 199.65 L125.50 199.27 L126.25 198.89 L127.00 198.51 L127.75 198.13 L128.50 197.76 L129.25 197.38 L130.00 197.00 L130.75 196.62 L131.50 196.23 L132.25 195.85 L133.00 195.47 L133.75 195.09 L134.50 194.71 L135.25 194.33 L136.00 193.95 L136.75 193.58 L137.50 193.21 L138.25 192.84 L139.00 192.46 L139.75 192.09 L140.50 191.71 L141.25 191.34 L142.00 190.96 L142.75 190.58 L143.50 190.20 L144.25 189.82 L145.00 189.44 L145.75 189.06 L146.50 188.69 L147.25 188.31 L148.00 187.93 L148.75 187.56 L149.50 187.19 L150.25 186.82 L151.00 186.45 L151.75 186.08 L152.50 185.71 L153.25 185.34 L154.00 184.98 L154.75 184.61 L155.50 184.25 L156.25 183.88 L157.00 183.52 L157.75 183.16 L158.50 182.80 L159.25 182.44 L160.00 182.08 L160.75 181.71 L161.50 181.33 L162.25 180.96 L163.00 180.59 L163.75 180.22 L164.50 179.85 L165.25 179.48 L166.00 179.11 L166.75 178.74 L167.50 178.38 L168.25 178.01 L169.00 177.65 L169.75 177.28 L170.50 176.92 L171.25 176.56 L172.00 176.19 L172.75 175.83 L173.50 175.47 L174.25 175.11 L175.00 174.75 L175.75 174.40 L176.50 174.04 L177.25 173.68 L178.00 173.33 L178.75 172.97 L179.50 172.61 L180.25 172.26 L181.00 171.91 L181.75 171.55 L182.50 171.20 L183.25 170.85 L184.00 170.50 L184.75 170.15 L185.50 169.80 L186.25 169.45 L187.00 169.11 L187.75 168.76 L188.50 168.41 L189.25 168.07 L190.00 167.73 L190.75 167.38 L191.50 167.04 L192.25 166.70 L193.00 166.35 L193.75 166.01 L194.50 165.67 L195.25 165.33 L196.00 164.99 L196.75 164.65 L197.50 164.31 L198.25 163.97 L199.00 163.64 L199.75 163.30 L200.50 162.97 L201.25 162.64 L202.00 162.31 L202.75 161.99 L203.50 161.66 L204.25 161.33 L205.00 161.01 L205.75 160.68 L206.50 160.36 L207.25 160.03 L208.00 159.71 L208.75 159.38 L209.50 159.06 L210.25 158.74 L211.00 158.41 L211.75 158.09 L212.50 157.77 L213.25 157.45 L214.00 157.13 L214.75 156.81 L215.50 156.49 L216.25 156.17 L217.00 155.85 L217.75 155.53 L218.50 155.21 L219.25 154.90 L220.00 154.58 L220.75 154.26 L221.50 153.95 L222.25 153.63 L223.00 153.31 L223.75 153.00 L224.50 152.68 L225.25 152.37 L226.00 152.06 L226.75 151.74 L227.50 151.43 L228.25 151.11 L229.00 150.80 L229.75 150.49 L230.50 150.18 L231.25 149.87 L232.00 149.55 L232.75 149.24 L233.50 148.93 L234.25 148.62 L235.00 148.31 L235.75 148.00 L236.50 147.69 L237.25 147.38 L238.00 147.08 L238.75 146.77 L239.50 146.46 L240.25 146.15 L241.00 145.84 L241.75 145.54 L242.50 145.23 L243.25 144.92 L244.00 144.62 L244.75 144.31 L245.50 144.01 L246.25 143.70 L247.00 143.40 L247.75 143.09 L248.50 142.79 L249.25 142.48 L250.00 142.18 L250.75 141.88 L251.50 141.57 L252.25 141.27 L253.00 140.97 L253.75 140.66 L254.50 140.36 L255.25 140.06 L256.00 139.76 L256.75 139.45 L257.50 139.15 L258.25 138.85 L259.00 138.55 L259.75 138.25 L260.50 137.95 L261.25 137.65 L262.00 137.35 L262.75 137.05 L263.50 136.75 L264.25 136.45 L265.00 136.15 L265.75 135.85 L266.50 135.56 L267.25 135.26 L268.00 134.96 L268.75 134.66 L269.50 134.36 L270.25 134.07 L271.00 133.77 L271.75 133.47 L272.50 133.18 L273.25 132.88 L274.00 132.58 L274.75 132.29 L275.50 131.99 L276.25 131.70 L277.00 131.40 L277.75 131.11 L278.50 130.81 L279.25 130.52 L280.00 130.22 L280.75 129.93 L281.50 129.64 L282.25 129.34 L283.00 129.05 L283.75 128.76 L284.50 128.47 L285.25 128.18 L286.00 127.89 L286.75 127.60 L287.50 127.32 L288.25 127.04 L289.00 126.76 L289.75 126.47 L290.50 126.19 L291.25 125.91 L292.00 125.63 L292.75 125.34 L293.50 125.06 L294.25 124.78 L295.00 124.50 L295.75 124.22 L296.50 123.94 L297.25 123.65 L298.00 123.37 L298.75 123.09 L299.50 122.81 L300.25 122.53 L301.00 122.25 L301.75 121.97 L302.50 121.70 L303.25 121.42 L304.00 121.14 L304.75 120.86 L305.50 120.58 L306.25 120.30 L307.00 120.03 L307.75 119.75 L308.50 119.47 L309.25 119.19 L310.00 118.92 L310.75 118.64 L311.50 118.36 L312.25 118.09 L313.00 117.81 L313.75 117.53 L314.50 117.26 L315.25 116.98 L316.00 116.70 L316.75 116.42 L317.50 116.15 L318.25 115.87 L319.00 115.59 L319.75 115.31 L320.50 115.03 L321.25 114.76 L322.00 114.48 L322.75 114.20 L323.50 113.92 L324.25 113.65 L325.00 113.37 L325.75 113.09 L326.50 112.82 L327.25 112.54 L328.00 112.27 L328.75 111.99 L329.50 111.71 L330.25 111.44 L331.00 111.16 L331.75 110.89 L332.50 110.61 L333.25 110.34 L334.00 110.06 L334.75 109.79 L335.50 109.51 L336.25 109.24 L337.00 108.96 L337.75 108.69 L338.50 108.41 L339.25 108.14 L340.00 107.86 L340.75 107.59 L341.50 107.32 L342.25 107.04 L343.00 106.77 L343.75 106.49 L344.50 106.22 L345.25 105.95 L346.00 105.67 L346.75 105.40 L347.50 105.13 L348.25 104.85 L349.00 104.58 L349.75 104.31 L350.50 104.04 L351.25 103.76 L352.00 103.49 L352.75 103.22 L353.50 102.95 L354.25 102.67 L355.00 102.40 L355.75 102.13 L356.50 101.86 L357.25 101.59 L358.00 101.32 L358.75 101.04 L359.50 100.77 L360.25 100.50 L361.00 100.23 L361.75 99.96 L362.50 99.69 L363.25 99.42 L364.00 99.15 L364.75 98.88 L365.50 98.60 L366.25 98.33 L367.00 98.06 L367.75 97.79 L368.50 97.52 L369.25 97.25 L370.00 96.98 L370.75 96.71 L371.50 96.44 L372.25 96.17 L373.00 95.90 L373.75 95.63 L374.50 95.36 L375.25 95.09 L376.00 94.83 L376.75 94.56 L377.50 94.29 L378.25 94.02 L379.00 93.75 L379.75 93.48 L380.50 93.21 L381.25 92.94 L382.00 92.67 L382.75 92.40 L383.50 92.14 L384.25 91.87 L385.00 91.60 L385.75 91.33 L386.50 91.06 L387.25 90.79 L388.00 90.53 L388.75 90.26 L389.50 89.99 L390.25 89.72 L391.00 89.45 L391.75 89.19 L392.50 88.92 L393.25 88.65 L394.00 88.38 L394.75 88.12 L395.50 87.85 L396.25 87.58 L397.00 87.31 L397.75 87.05 L398.50 86.78 L399.25 86.51 L400.00 86.24 L400.75 85.98 L401.50 85.71 L402.25 85.44 L403.00 85.18 L403.75 84.91 L404.50 84.64 L405.25 84.38 L406.00 84.11 L406.75 83.84 L407.50 83.58 L408.25 83.31 L409.00 83.05 L409.75 82.78 L410.50 82.51 L411.25 82.25 L412.00 81.98 L412.75 81.71 L413.50 81.45 L414.25 81.18 L415.00 80.92 L415.75 80.65 L416.50 80.39 L417.25 80.12 L418.00 79.85 L418.75 79.59 L419.50 79.32 L420.25 79.06 L421.00 78.79 L421.75 78.53 L422.50 78.26 L423.25 78.00 L424.00 77.73 L424.75 77.47 L425.50 77.20 L426.25 76.94 L427.00 76.67 L427.75 76.41 L428.50 76.14 L429.25 75.88 L430.00 75.61 L430.75 75.35 L431.50 75.08 L432.25 74.82 L433.00 74.55 L433.76 74.28 L434.53 74.01 L435.29 73.75 L436.00 73.50 L436.72 73.24 L437.44 72.99 L438.06 72.77 L438.50 72.61 L438.50 76.55 L438.06 76.71 L437.44 76.93 L436.72 77.18 L436.00 77.44 L435.29 77.69 L434.53 77.96 L433.76 78.23 L433.00 78.50 L432.25 78.76 L431.50 79.03 L430.75 79.29 L430.00 79.56 L429.25 79.82 L428.50 80.09 L427.75 80.35 L427.00 80.62 L426.25 80.88 L425.50 81.15 L424.75 81.41 L424.00 81.68 L423.25 81.94 L422.50 82.21 L421.75 82.48 L421.00 82.74 L420.25 83.01 L419.50 83.27 L418.75 83.54 L418.00 83.80 L417.25 84.07 L416.50 84.34 L415.75 84.60 L415.00 84.87 L414.25 85.13 L413.50 85.40 L412.75 85.67 L412.00 85.93 L411.25 86.20 L410.50 86.47 L409.75 86.73 L409.00 87.00 L408.25 87.27 L407.50 87.53 L406.75 87.80 L406.00 88.07 L405.25 88.33 L404.50 88.60 L403.75 88.87 L403.00 89.13 L402.25 89.40 L401.50 89.67 L400.75 89.93 L400.00 90.20 L399.25 90.47 L398.50 90.74 L397.75 91.00 L397.00 91.27 L396.25 91.54 L395.50 91.81 L394.75 92.07 L394.00 92.34 L393.25 92.61 L392.50 92.88 L391.75 93.15 L391.00 93.41 L390.25 93.68 L389.50 93.95 L388.75 94.22 L388.00 94.49 L387.25 94.76 L386.50 95.02 L385.75 95.29 L385.00 95.56 L384.25 95.83 L383.50 96.10 L382.75 96.37 L382.00 96.64 L381.25 96.91 L380.50 97.18 L379.75 97.45 L379.00 97.71 L378.25 97.98 L377.50 98.25 L376.75 98.52 L376.00 98.79 L375.25 99.06 L374.50 99.33 L373.75 99.60 L373.00 99.87 L372.25 100.14 L371.50 100.41 L370.75 100.68 L370.00 100.95 L369.25 101.22 L368.50 101.49 L367.75 101.76 L367.00 102.04 L366.25 102.31 L365.50 102.58 L364.75 102.85 L364.00 103.12 L363.25 103.39 L362.50 103.66 L361.75 103.93 L361.00 104.20 L360.25 104.48 L359.50 104.75 L358.75 105.02 L358.00 105.29 L357.25 105.56 L356.50 105.83 L355.75 106.11 L355.00 106.38 L354.25 106.65 L353.50 106.92 L352.75 107.20 L352.00 107.47 L351.25 107.74 L350.50 108.01 L349.75 108.29 L349.00 108.56 L348.25 108.83 L347.50 109.11 L346.75 109.38 L346.00 109.65 L345.25 109.93 L344.50 110.20 L343.75 110.48 L343.00 110.75 L342.25 111.02 L341.50 111.30 L340.75 111.57 L340.00 111.85 L339.25 112.12 L338.50 112.40 L337.75 112.67 L337.00 112.95 L336.25 113.22 L335.50 113.50 L334.75 113.77 L334.00 114.05 L333.25 114.32 L332.50 114.60 L331.75 114.87 L331.00 115.15 L330.25 115.42 L329.50 115.70 L328.75 115.98 L328.00 116.25 L327.25 116.53 L326.50 116.81 L325.75 117.08 L325.00 117.36 L324.25 117.64 L323.50 117.91 L322.75 118.19 L322.00 118.47 L321.25 118.75 L320.50 119.02 L319.75 119.30 L319.00 119.58 L318.25 119.86 L317.50 120.14 L316.75 120.42 L316.00 120.69 L315.25 120.97 L314.50 121.25 L313.75 121.53 L313.00 121.80 L312.25 122.08 L311.50 122.36 L310.75 122.64 L310.00 122.91 L309.25 123.19 L308.50 123.47 L307.75 123.75 L307.00 124.02 L306.25 124.30 L305.50 124.58 L304.75 124.86 L304.00 125.14 L303.25 125.42 L302.50 125.70 L301.75 125.97 L301.00 126.25 L300.25 126.53 L299.50 126.81 L298.75 127.09 L298.00 127.37 L297.25 127.65 L296.50 127.93 L295.75 128.21 L295.00 128.49 L294.25 128.77 L293.50 129.05 L292.75 129.33 L292.00 129.61 L291.25 129.89 L290.50 130.17 L289.75 130.45 L289.00 130.73 L288.25 131.01 L287.50 131.29 L286.75 131.58 L286.00 131.86 L285.25 132.15 L284.50 132.43 L283.75 132.72 L283.00 133.01 L282.25 133.31 L281.50 133.60 L280.75 133.89 L280.00 134.18 L279.25 134.48 L278.50 134.77 L277.75 135.06 L277.00 135.36 L276.25 135.65 L275.50 135.94 L274.75 136.24 L274.00 136.53 L273.25 136.83 L272.50 137.12 L271.75 137.42 L271.00 137.71 L270.25 138.01 L269.50 138.30 L268.75 138.60 L268.00 138.90 L267.25 139.19 L266.50 139.49 L265.75 139.79 L265.00 140.08 L264.25 140.38 L263.50 140.68 L262.75 140.98 L262.00 141.27 L261.25 141.57 L260.50 141.87 L259.75 142.17 L259.00 142.47 L258.25 142.77 L257.50 143.07 L256.75 143.37 L256.00 143.67 L255.25 143.97 L254.50 144.27 L253.75 144.57 L253.00 144.87 L252.25 145.17 L251.50 145.48 L250.75 145.78 L250.00 146.08 L249.25 146.38 L248.50 146.68 L247.75 146.99 L247.00 147.29 L246.25 147.59 L245.50 147.90 L244.75 148.20 L244.00 148.51 L243.25 148.81 L242.50 149.12 L241.75 149.42 L241.00 149.73 L240.25 150.03 L239.50 150.34 L238.75 150.65 L238.00 150.95 L237.25 151.26 L236.50 151.57 L235.75 151.87 L235.00 152.18 L234.25 152.49 L233.50 152.80 L232.75 153.11 L232.00 153.42 L231.25 153.73 L230.50 154.04 L229.75 154.35 L229.00 154.66 L228.25 154.97 L227.50 155.28 L226.75 155.60 L226.00 155.91 L225.25 156.22 L224.50 156.53 L223.75 156.85 L223.00 157.16 L222.25 157.47 L221.50 157.79 L220.75 158.10 L220.00 158.42 L219.25 158.74 L218.50 159.05 L217.75 159.37 L217.00 159.69 L216.25 160.00 L215.50 160.32 L214.75 160.64 L214.00 160.96 L213.25 161.28 L212.50 161.60 L211.75 161.92 L211.00 162.24 L210.25 162.56 L209.50 162.88 L208.75 163.20 L208.00 163.52 L207.25 163.85 L206.50 164.17 L205.75 164.49 L205.00 164.82 L204.25 165.14 L203.50 165.47 L202.75 165.79 L202.00 166.12 L201.25 166.44 L200.50 166.77 L199.75 167.10 L199.00 167.43 L198.25 167.76 L197.50 168.08 L196.75 168.41 L196.00 168.74 L195.25 169.08 L194.50 169.41 L193.75 169.74 L193.00 170.07 L192.25 170.40 L191.50 170.74 L190.75 171.07 L190.00 171.41 L189.25 171.74 L188.50 172.08 L187.75 172.41 L187.00 172.75 L186.25 173.09 L185.50 173.43 L184.75 173.77 L184.00 174.11 L183.25 174.45 L182.50 174.79 L181.75 175.13 L181.00 175.48 L180.25 175.82 L179.50 176.17 L178.75 176.51 L178.00 176.86 L177.25 177.21 L176.50 177.56 L175.75 177.90 L175.00 178.25 L174.25 178.60 L173.50 178.95 L172.75 179.31 L172.00 179.66 L171.25 180.01 L170.50 180.36 L169.75 180.72 L169.00 181.07 L168.25 181.43 L167.50 181.79 L166.75 182.14 L166.00 182.50 L165.25 182.86 L164.50 183.22 L163.75 183.58 L163.00 183.94 L162.25 184.31 L161.50 184.67 L160.75 185.04 L160.00 185.40 L159.25 185.75 L158.50 186.10 L157.75 186.45 L157.00 186.80 L156.25 187.16 L155.50 187.51 L154.75 187.86 L154.00 188.22 L153.25 188.58 L152.50 188.94 L151.75 189.30 L151.00 189.66 L150.25 190.02 L149.50 190.38 L148.75 190.74 L148.00 191.11 L147.25 191.47 L146.50 191.84 L145.75 192.21 L145.00 192.58 L144.25 192.95 L143.50 193.32 L142.75 193.69 L142.00 194.06 L141.25 194.44 L140.50 194.82 L139.75 195.20 L139.00 195.58 L138.25 195.96 L137.50 196.33 L136.75 196.71 L136.00 197.08 L135.25 197.46 L134.50 197.85 L133.75 198.23 L133.00 198.61 L132.25 199.00 L131.50 199.38 L130.75 199.77 L130.00 200.16 L129.25 200.56 L128.50 200.97 L127.75 201.37 L127.00 201.78 L126.25 202.19 L125.50 202.60 L124.75 203.00 L124.00 203.41 L123.25 203.81 L122.50 204.21 L121.75 204.62 L121.00 205.02 L120.25 205.43 L119.50 205.83 L118.75 206.25 L118.00 206.66 L117.25 207.09 L116.50 207.52 L115.75 207.95 L115.00 208.38 L114.25 208.82 L113.50 209.26 L112.75 209.70 L112.00 210.14 L111.25 210.58 L110.50 211.03 L109.75 211.48 L109.00 211.93 L108.25 212.39 L107.50 212.85 L106.75 213.31 L106.00 213.78 L105.25 214.25 L104.50 214.72 L103.75 215.20 L103.00 215.67 L102.37 216.08 L101.81 216.44 L101.10 216.89 L100.00 217.60 L98.32 218.67 L96.23 219.99 L94.03 221.39 L92.00 222.70 L90.21 223.88 L88.50 225.03 L86.87 226.13 L85.30 227.20 L83.82 228.22 L82.42 229.19 L81.07 230.14 L79.70 231.10 L78.32 232.07 L76.95 233.04 L75.58 234.01 L74.20 235.00 L72.80 236.01 L71.40 237.03 L70.00 238.06 L68.60 239.10 L67.22 240.12 L65.85 241.14 L64.48 242.19 L63.10 243.30 L61.64 244.55 L60.12 245.89 L58.70 247.19 L57.50 248.30 L56.56 249.20 L55.80 249.96 L55.22 250.57 L54.80 251.00 Z" fill="#e79ac6" stroke="none"/>
<path d="M47.90 245.50 C48.58 245.37 50.85 245.07 52.00 244.70 C53.15 244.33 53.88 243.88 54.80 243.30 C55.72 242.72 56.12 242.30 57.50 241.20 C58.88 240.10 61.25 238.18 63.10 236.70 C64.95 235.22 66.75 233.70 68.60 232.30 C70.45 230.90 72.35 229.57 74.20 228.30 C76.05 227.03 77.85 225.87 79.70 224.70 C81.55 223.53 83.25 222.53 85.30 221.30 C87.35 220.07 89.55 218.75 92.00 217.30 C94.45 215.85 98.17 213.66 100.00 212.60 C101.83 211.54 102.00 211.49 103.00 210.94 C104.00 210.39 105.00 209.84 106.00 209.30 C107.00 208.76 108.00 208.23 109.00 207.70 C110.00 207.17 111.00 206.64 112.00 206.12 C113.00 205.60 114.00 205.08 115.00 204.57 C116.00 204.06 117.00 203.57 118.00 203.06 C119.00 202.55 120.00 202.04 121.00 201.53 C122.00 201.02 123.00 200.53 124.00 200.03 C125.00 199.52 126.00 199.02 127.00 198.51 C128.00 198.01 129.00 197.51 130.00 197.00 C131.00 196.49 132.00 195.97 133.00 195.47 C134.00 194.96 135.00 194.45 136.00 193.95 C137.00 193.45 138.00 192.96 139.00 192.46 C140.00 191.96 141.00 191.47 142.00 190.96 C143.00 190.46 144.00 189.94 145.00 189.44 C146.00 188.94 147.00 188.43 148.00 187.93 C149.00 187.44 150.00 186.94 151.00 186.45 C152.00 185.95 153.00 185.46 154.00 184.98 C155.00 184.49 156.00 184.00 157.00 183.52 C158.00 183.04 159.00 182.57 160.00 182.08 C161.00 181.59 162.00 181.08 163.00 180.59 C164.00 180.09 165.00 179.60 166.00 179.11 C167.00 178.62 168.00 178.13 169.00 177.65 C170.00 177.16 171.00 176.68 172.00 176.19 C173.00 175.71 174.00 175.23 175.00 174.75 C176.00 174.28 177.00 173.80 178.00 173.33 C179.00 172.85 180.00 172.38 181.00 171.91 C182.00 171.44 183.00 170.97 184.00 170.50 C185.00 170.03 186.00 169.57 187.00 169.11 C188.00 168.64 189.00 168.18 190.00 167.73 C191.00 167.27 192.00 166.81 193.00 166.35 C194.00 165.90 195.00 165.45 196.00 164.99 C197.00 164.54 198.00 164.08 199.00 163.64 C200.00 163.19 201.00 162.75 202.00 162.31 C203.00 161.87 204.00 161.44 205.00 161.01 C206.00 160.57 207.00 160.14 208.00 159.71 C209.00 159.27 210.00 158.84 211.00 158.41 C212.00 157.99 213.00 157.56 214.00 157.13 C215.00 156.70 216.00 156.28 217.00 155.85 C218.00 155.43 219.00 155.00 220.00 154.58 C221.00 154.16 222.00 153.74 223.00 153.31 C224.00 152.89 225.00 152.47 226.00 152.06 C227.00 151.64 228.00 151.22 229.00 150.80 C230.00 150.39 231.00 149.97 232.00 149.55 C233.00 149.14 234.00 148.73 235.00 148.31 C236.00 147.90 237.00 147.49 238.00 147.08 C239.00 146.66 240.00 146.25 241.00 145.84 C242.00 145.43 243.00 145.03 244.00 144.62 C245.00 144.21 246.00 143.80 247.00 143.40 C248.00 142.99 249.00 142.58 250.00 142.18 C251.00 141.77 252.00 141.37 253.00 140.97 C254.00 140.56 255.00 140.16 256.00 139.76 C257.00 139.35 258.00 138.95 259.00 138.55 C260.00 138.15 261.00 137.75 262.00 137.35 C263.00 136.95 264.00 136.55 265.00 136.15 C266.00 135.75 267.00 135.36 268.00 134.96 C269.00 134.56 270.00 134.17 271.00 133.77 C272.00 133.37 273.00 132.98 274.00 132.58 C275.00 132.19 276.00 131.80 277.00 131.40 C278.00 131.01 279.00 130.62 280.00 130.22 C281.00 129.83 282.00 129.44 283.00 129.05 C284.00 128.66 285.00 128.27 286.00 127.89 C287.00 127.51 288.00 127.13 289.00 126.76 C290.00 126.38 291.00 126.00 292.00 125.63 C293.00 125.25 294.00 124.87 295.00 124.50 C296.00 124.12 297.00 123.75 298.00 123.37 C299.00 123.00 300.00 122.63 301.00 122.25 C302.00 121.88 303.00 121.51 304.00 121.14 C305.00 120.77 306.00 120.40 307.00 120.03 C308.00 119.66 309.00 119.29 310.00 118.92 C311.00 118.55 312.00 118.18 313.00 117.81 C314.00 117.44 315.00 117.07 316.00 116.70 C317.00 116.33 318.00 115.96 319.00 115.59 C320.00 115.22 321.00 114.85 322.00 114.48 C323.00 114.11 324.00 113.74 325.00 113.37 C326.00 113.00 327.00 112.63 328.00 112.27 C329.00 111.90 330.00 111.53 331.00 111.16 C332.00 110.79 333.00 110.43 334.00 110.06 C335.00 109.69 336.00 109.33 337.00 108.96 C338.00 108.59 339.00 108.23 340.00 107.86 C341.00 107.50 342.00 107.13 343.00 106.77 C344.00 106.40 345.00 106.04 346.00 105.67 C347.00 105.31 348.00 104.95 349.00 104.58 C350.00 104.22 351.00 103.85 352.00 103.49 C353.00 103.13 354.00 102.77 355.00 102.40 C356.00 102.04 357.00 101.68 358.00 101.32 C359.00 100.95 360.00 100.59 361.00 100.23 C362.00 99.87 363.00 99.51 364.00 99.15 C365.00 98.79 366.00 98.42 367.00 98.06 C368.00 97.70 369.00 97.34 370.00 96.98 C371.00 96.62 372.00 96.26 373.00 95.90 C374.00 95.54 375.00 95.18 376.00 94.83 C377.00 94.47 378.00 94.11 379.00 93.75 C380.00 93.39 381.00 93.03 382.00 92.67 C383.00 92.31 384.00 91.96 385.00 91.60 C386.00 91.24 387.00 90.88 388.00 90.53 C389.00 90.17 390.00 89.81 391.00 89.45 C392.00 89.10 393.00 88.74 394.00 88.38 C395.00 88.03 396.00 87.67 397.00 87.31 C398.00 86.96 399.00 86.60 400.00 86.24 C401.00 85.89 402.00 85.53 403.00 85.18 C404.00 84.82 405.00 84.47 406.00 84.11 C407.00 83.76 408.00 83.40 409.00 83.05 C410.00 82.69 411.00 82.34 412.00 81.98 C413.00 81.63 414.00 81.27 415.00 80.92 C416.00 80.56 417.00 80.21 418.00 79.85 C419.00 79.50 420.00 79.15 421.00 78.79 C422.00 78.44 423.00 78.09 424.00 77.73 C425.00 77.38 426.00 77.02 427.00 76.67 C428.00 76.32 429.00 75.97 430.00 75.61 C431.00 75.26 432.00 74.91 433.00 74.55 C434.00 74.20 435.08 73.82 436.00 73.50 C436.92 73.17 438.08 72.76 438.50 72.61" stroke="#e81a3a" stroke-width="2.05"/>
<path d="M49.70 272.50 C49.73 271.37 49.77 267.78 49.90 265.70 C50.03 263.62 50.23 261.60 50.50 260.00 C50.77 258.40 51.12 257.17 51.50 256.10 C51.88 255.03 52.25 254.45 52.80 253.60 C53.35 252.75 54.02 251.88 54.80 251.00 C55.58 250.12 56.12 249.58 57.50 248.30 C58.88 247.02 61.25 244.83 63.10 243.30 C64.95 241.77 66.75 240.48 68.60 239.10 C70.45 237.72 72.35 236.33 74.20 235.00 C76.05 233.67 77.85 232.40 79.70 231.10 C81.55 229.80 83.25 228.60 85.30 227.20 C87.35 225.80 89.55 224.30 92.00 222.70 C94.45 221.10 98.17 218.77 100.00 217.60 C101.83 216.43 102.00 216.31 103.00 215.67 C104.00 215.04 105.00 214.40 106.00 213.78 C107.00 213.15 108.00 212.54 109.00 211.93 C110.00 211.32 111.00 210.73 112.00 210.14 C113.00 209.55 114.00 208.96 115.00 208.38 C116.00 207.80 117.00 207.22 118.00 206.66 C119.00 206.10 120.00 205.56 121.00 205.02 C122.00 204.48 123.00 203.95 124.00 203.41 C125.00 202.87 126.00 202.32 127.00 201.78 C128.00 201.24 129.00 200.69 130.00 200.16 C131.00 199.63 132.00 199.12 133.00 198.61 C134.00 198.10 135.00 197.59 136.00 197.08 C137.00 196.58 138.00 196.08 139.00 195.58 C140.00 195.07 141.00 194.56 142.00 194.06 C143.00 193.56 144.00 193.07 145.00 192.58 C146.00 192.08 147.00 191.59 148.00 191.11 C149.00 190.62 150.00 190.14 151.00 189.66 C152.00 189.18 153.00 188.70 154.00 188.22 C155.00 187.75 156.00 187.27 157.00 186.80 C158.00 186.33 159.00 185.87 160.00 185.40 C161.00 184.92 162.00 184.42 163.00 183.94 C164.00 183.46 165.00 182.98 166.00 182.50 C167.00 182.02 168.00 181.55 169.00 181.07 C170.00 180.60 171.00 180.13 172.00 179.66 C173.00 179.19 174.00 178.72 175.00 178.25 C176.00 177.79 177.00 177.32 178.00 176.86 C179.00 176.40 180.00 175.94 181.00 175.48 C182.00 175.02 183.00 174.56 184.00 174.11 C185.00 173.65 186.00 173.20 187.00 172.75 C188.00 172.30 189.00 171.85 190.00 171.41 C191.00 170.96 192.00 170.51 193.00 170.07 C194.00 169.63 195.00 169.19 196.00 168.74 C197.00 168.30 198.00 167.86 199.00 167.43 C200.00 166.99 201.00 166.55 202.00 166.12 C203.00 165.68 204.00 165.25 205.00 164.82 C206.00 164.38 207.00 163.95 208.00 163.52 C209.00 163.09 210.00 162.66 211.00 162.24 C212.00 161.81 213.00 161.38 214.00 160.96 C215.00 160.53 216.00 160.11 217.00 159.69 C218.00 159.26 219.00 158.84 220.00 158.42 C221.00 158.00 222.00 157.58 223.00 157.16 C224.00 156.74 225.00 156.32 226.00 155.91 C227.00 155.49 228.00 155.07 229.00 154.66 C230.00 154.25 231.00 153.83 232.00 153.42 C233.00 153.01 234.00 152.59 235.00 152.18 C236.00 151.77 237.00 151.36 238.00 150.95 C239.00 150.54 240.00 150.13 241.00 149.73 C242.00 149.32 243.00 148.91 244.00 148.51 C245.00 148.10 246.00 147.70 247.00 147.29 C248.00 146.89 249.00 146.48 250.00 146.08 C251.00 145.68 252.00 145.27 253.00 144.87 C254.00 144.47 255.00 144.07 256.00 143.67 C257.00 143.27 258.00 142.87 259.00 142.47 C260.00 142.07 261.00 141.67 262.00 141.27 C263.00 140.88 264.00 140.48 265.00 140.08 C266.00 139.69 267.00 139.29 268.00 138.90 C269.00 138.50 270.00 138.11 271.00 137.71 C272.00 137.32 273.00 136.93 274.00 136.53 C275.00 136.14 276.00 135.75 277.00 135.36 C278.00 134.97 279.00 134.57 280.00 134.18 C281.00 133.79 282.00 133.40 283.00 133.01 C284.00 132.63 285.00 132.24 286.00 131.86 C287.00 131.48 288.00 131.11 289.00 130.73 C290.00 130.36 291.00 129.98 292.00 129.61 C293.00 129.24 294.00 128.86 295.00 128.49 C296.00 128.11 297.00 127.74 298.00 127.37 C299.00 127.00 300.00 126.63 301.00 126.25 C302.00 125.88 303.00 125.51 304.00 125.14 C305.00 124.77 306.00 124.39 307.00 124.02 C308.00 123.65 309.00 123.28 310.00 122.91 C311.00 122.54 312.00 122.17 313.00 121.80 C314.00 121.43 315.00 121.07 316.00 120.69 C317.00 120.32 318.00 119.95 319.00 119.58 C320.00 119.21 321.00 118.84 322.00 118.47 C323.00 118.10 324.00 117.73 325.00 117.36 C326.00 116.99 327.00 116.62 328.00 116.25 C329.00 115.88 330.00 115.52 331.00 115.15 C332.00 114.78 333.00 114.41 334.00 114.05 C335.00 113.68 336.00 113.31 337.00 112.95 C338.00 112.58 339.00 112.21 340.00 111.85 C341.00 111.48 342.00 111.11 343.00 110.75 C344.00 110.38 345.00 110.02 346.00 109.65 C347.00 109.29 348.00 108.92 349.00 108.56 C350.00 108.20 351.00 107.83 352.00 107.47 C353.00 107.11 354.00 106.74 355.00 106.38 C356.00 106.02 357.00 105.65 358.00 105.29 C359.00 104.93 360.00 104.57 361.00 104.20 C362.00 103.84 363.00 103.48 364.00 103.12 C365.00 102.76 366.00 102.40 367.00 102.04 C368.00 101.67 369.00 101.31 370.00 100.95 C371.00 100.59 372.00 100.23 373.00 99.87 C374.00 99.51 375.00 99.15 376.00 98.79 C377.00 98.43 378.00 98.07 379.00 97.71 C380.00 97.36 381.00 97.00 382.00 96.64 C383.00 96.28 384.00 95.92 385.00 95.56 C386.00 95.20 387.00 94.85 388.00 94.49 C389.00 94.13 390.00 93.77 391.00 93.41 C392.00 93.06 393.00 92.70 394.00 92.34 C395.00 91.99 396.00 91.63 397.00 91.27 C398.00 90.92 399.00 90.56 400.00 90.20 C401.00 89.85 402.00 89.49 403.00 89.13 C404.00 88.78 405.00 88.42 406.00 88.07 C407.00 87.71 408.00 87.35 409.00 87.00 C410.00 86.64 411.00 86.29 412.00 85.93 C413.00 85.58 414.00 85.22 415.00 84.87 C416.00 84.51 417.00 84.16 418.00 83.80 C419.00 83.45 420.00 83.10 421.00 82.74 C422.00 82.39 423.00 82.03 424.00 81.68 C425.00 81.32 426.00 80.97 427.00 80.62 C428.00 80.26 429.00 79.91 430.00 79.56 C431.00 79.20 432.00 78.85 433.00 78.50 C434.00 78.14 435.08 77.76 436.00 77.44 C436.92 77.11 438.08 76.70 438.50 76.55" stroke="#e81a3a" stroke-width="2.05"/>
<path d="M47.90 248.20 C48.50 248.15 50.32 248.22 51.50 247.90 C52.68 247.58 53.65 247.13 55.00 246.30 C56.35 245.47 58.10 244.07 59.60 242.90 C61.10 241.73 62.60 240.48 64.00 239.30 C65.40 238.12 66.67 236.93 68.00 235.80 C69.33 234.67 70.67 233.58 72.00 232.50 C73.33 231.42 74.67 230.33 76.00 229.30 C77.33 228.27 78.50 227.43 80.00 226.30 C81.50 225.17 83.33 223.72 85.00 222.50 C86.67 221.28 88.33 220.12 90.00 219.00 C91.67 217.88 93.33 216.82 95.00 215.75 C96.67 214.68 99.17 213.12 100.00 212.60" stroke="#e81a3a" stroke-width="2.05"/>
</g>
<rect x="47.90" y="32.30" width="388.95" height="240.60" fill="none" stroke="#000" stroke-width="1.9"/>
<path d="M56.97 272.90V268.90M56.97 32.30V36.30M68.48 272.90V268.90M68.48 32.30V36.30M79.98 272.90V268.90M79.98 32.30V36.30M91.49 272.90V268.90M91.49 32.30V36.30M103.00 272.90V265.30M103.00 32.30V39.90M114.51 272.90V268.90M114.51 32.30V36.30M126.02 272.90V268.90M126.02 32.30V36.30M137.52 272.90V268.90M137.52 32.30V36.30M149.03 272.90V268.90M149.03 32.30V36.30M160.54 272.90V265.30M160.54 32.30V39.90M172.05 272.90V268.90M172.05 32.30V36.30M183.56 272.90V268.90M183.56 32.30V36.30M195.06 272.90V268.90M195.06 32.30V36.30M206.57 272.90V268.90M206.57 32.30V36.30M218.08 272.90V265.30M218.08 32.30V39.90M229.59 272.90V268.90M229.59 32.30V36.30M241.10 272.90V268.90M241.10 32.30V36.30M252.60 272.90V268.90M252.60 32.30V36.30M264.11 272.90V268.90M264.11 32.30V36.30M275.62 272.90V265.30M275.62 32.30V39.90M287.13 272.90V268.90M287.13 32.30V36.30M298.64 272.90V268.90M298.64 32.30V36.30M310.14 272.90V268.90M310.14 32.30V36.30M321.65 272.90V268.90M321.65 32.30V36.30M333.16 272.90V265.30M333.16 32.30V39.90M344.67 272.90V268.90M344.67 32.30V36.30M356.18 272.90V268.90M356.18 32.30V36.30M367.68 272.90V268.90M367.68 32.30V36.30M379.19 272.90V268.90M379.19 32.30V36.30M390.70 272.90V265.30M390.70 32.30V39.90M402.21 272.90V268.90M402.21 32.30V36.30M413.72 272.90V268.90M413.72 32.30V36.30M425.22 272.90V268.90M425.22 32.30V36.30M436.73 272.90V268.90M436.73 32.30V36.30M47.90 272.85H55.50M436.85 272.85H429.25M47.90 257.82H51.90M436.85 257.82H432.85M47.90 242.78H51.90M436.85 242.78H432.85M47.90 227.75H51.90M436.85 227.75H432.85M47.90 212.71H55.50M436.85 212.71H429.25M47.90 197.68H51.90M436.85 197.68H432.85M47.90 182.64H51.90M436.85 182.64H432.85M47.90 167.61H51.90M436.85 167.61H432.85M47.90 152.58H55.50M436.85 152.58H429.25M47.90 137.54H51.90M436.85 137.54H432.85M47.90 122.51H51.90M436.85 122.51H432.85M47.90 107.47H51.90M436.85 107.47H432.85M47.90 92.44H55.50M436.85 92.44H429.25M47.90 77.40H51.90M436.85 77.40H432.85M47.90 62.37H51.90M436.85 62.37H432.85M47.90 47.33H51.90M436.85 47.33H432.85M47.90 32.30H55.50M436.85 32.30H429.25" stroke="#555555" stroke-width="1.5" fill="none"/>
<path d="M59.8 57.10H79.7" stroke="#e81a3a" stroke-width="1.8"/>
<path d="M59.8 87.50H79.7" stroke="#2f449f" stroke-width="1.8"/>
<path d="M59.8 117.80H79.7" stroke="#0ba44c" stroke-width="1.8"/>
<text transform="translate(44.70 281.55) scale(1.000 1.040)" text-anchor="end" font-family="Liberation Sans, sans-serif" font-size="22.80" fill="#5e5e5e">0</text>
<text transform="translate(44.70 221.41) scale(1.000 1.040)" text-anchor="end" font-family="Liberation Sans, sans-serif" font-size="22.80" fill="#5e5e5e">0.01</text>
<text transform="translate(44.70 161.28) scale(1.000 1.040)" text-anchor="end" font-family="Liberation Sans, sans-serif" font-size="22.80" fill="#5e5e5e">0.02</text>
<text transform="translate(44.70 101.14) scale(1.000 1.040)" text-anchor="end" font-family="Liberation Sans, sans-serif" font-size="22.80" fill="#5e5e5e">0.03</text>
<text transform="translate(44.70 41.00) scale(1.000 1.040)" text-anchor="end" font-family="Liberation Sans, sans-serif" font-size="22.80" fill="#5e5e5e">0.04</text>
<text transform="translate(106.00 297.70) scale(1.000 1.040)" text-anchor="middle" font-family="Liberation Sans, sans-serif" font-size="22.80" fill="#5e5e5e">25</text>
<text transform="translate(163.54 297.70) scale(1.000 1.040)" text-anchor="middle" font-family="Liberation Sans, sans-serif" font-size="22.80" fill="#5e5e5e">50</text>
<text transform="translate(221.08 297.70) scale(1.000 1.040)" text-anchor="middle" font-family="Liberation Sans, sans-serif" font-size="22.80" fill="#5e5e5e">75</text>
<text transform="translate(276.12 297.70) scale(1.000 1.040)" text-anchor="middle" font-family="Liberation Sans, sans-serif" font-size="22.80" fill="#5e5e5e">100</text>
<text transform="translate(333.66 297.70) scale(1.000 1.040)" text-anchor="middle" font-family="Liberation Sans, sans-serif" font-size="22.80" fill="#5e5e5e">125</text>
<text transform="translate(391.20 297.70) scale(1.000 1.040)" text-anchor="middle" font-family="Liberation Sans, sans-serif" font-size="22.80" fill="#5e5e5e">150</text>
<text transform="translate(435.40 318.60) scale(1.000 1.040)" text-anchor="end" font-family="Liberation Sans, sans-serif" font-size="20.20" fill="#5e5e5e">R [GeV]</text>
<text transform="translate(47.80 23.00) scale(1.000 1.040)" text-anchor="start" font-family="Liberation Sans, sans-serif" font-size="20.20" fill="#5e5e5e">m</text>
<text transform="translate(64.20 28.80) scale(1.000 1.040)" text-anchor="start" font-family="Liberation Sans, sans-serif" font-size="14.10" fill="#5e5e5e">t</text>
<text transform="translate(64.60 14.50) scale(1.000 1.040)" text-anchor="start" font-family="Liberation Sans, sans-serif" font-size="14.10" fill="#5e5e5e">MSRn</text>
<text transform="translate(104.40 23.00) scale(1.000 1.040)" text-anchor="start" font-family="Liberation Sans, sans-serif" font-size="20.20" fill="#5e5e5e">(R)</text>
<text transform="translate(155.60 23.00) scale(1.000 1.040)" text-anchor="start" font-family="Liberation Sans, sans-serif" font-size="20.20" fill="#5e5e5e">m</text>
<text transform="translate(172.00 28.80) scale(1.000 1.040)" text-anchor="start" font-family="Liberation Sans, sans-serif" font-size="14.10" fill="#5e5e5e">t</text>
<text transform="translate(172.40 14.50) scale(1.000 1.040)" text-anchor="start" font-family="Liberation Sans, sans-serif" font-size="14.10" fill="#5e5e5e">MSRp</text>
<text transform="translate(212.20 23.00) scale(1.000 1.040)" text-anchor="start" font-family="Liberation Sans, sans-serif" font-size="20.20" fill="#5e5e5e">(R)</text>
<text transform="translate(137.00 23.00) scale(1.000 1.040)" text-anchor="start" font-family="Liberation Sans, sans-serif" font-size="20.20" fill="#5e5e5e">−</text>
<text transform="translate(245.50 23.00) scale(0.975 1.040)" text-anchor="start" font-family="Liberation Sans, sans-serif" font-size="20.20" fill="#5e5e5e">[GeV]</text>
<text transform="translate(287.20 58.00) scale(1.000 1.040)" text-anchor="start" font-family="Liberation Sans, sans-serif" font-size="18.40" fill="#000">Fixed</text>
<text transform="translate(332.00 59.90) scale(1.000 1.040)" text-anchor="start" font-family="Liberation Sans, sans-serif" font-size="18.40" fill="#000">−</text>
<text transform="translate(343.20 58.00) scale(1.000 1.040)" text-anchor="start" font-family="Liberation Sans, sans-serif" font-size="18.40" fill="#000">Order</text>
<text transform="translate(83.20 62.50) scale(1.000 1.040)" text-anchor="start" font-family="Liberation Sans, sans-serif" font-size="18.40" fill="#e81a3a">O(</text>
<path transform="translate(104.9 62.50) skewX(-13)" d="M8.0 -9.5C7.8 -6.5 6.9 0.2 4.0 0.2C1.9 0.2 0.8 -1.4 0.8 -4.0C0.8 -7.0 2.3 -9.2 4.3 -9.2C7.4 -9.2 7.9 -1.2 10.4 0.1" fill="none" stroke="#e81a3a" stroke-width="1.55"/>
<text transform="translate(115.80 67.20) scale(1.000 1.040)" text-anchor="start" font-family="Liberation Sans, sans-serif" font-size="13.00" fill="#e81a3a">s</text>
<text transform="translate(116.40 55.00) scale(1.000 1.040)" text-anchor="start" font-family="Liberation Sans, sans-serif" font-size="13.00" fill="#e81a3a">4</text>
<text transform="translate(124.60 62.50) scale(1.000 1.040)" text-anchor="start" font-family="Liberation Sans, sans-serif" font-size="18.40" fill="#e81a3a">)</text>
<text transform="translate(83.20 93.10) scale(1.000 1.040)" text-anchor="start" font-family="Liberation Sans, sans-serif" font-size="18.40" fill="#2f449f">O(</text>
<path transform="translate(104.9 93.10) skewX(-13)" d="M8.0 -9.5C7.8 -6.5 6.9 0.2 4.0 0.2C1.9 0.2 0.8 -1.4 0.8 -4.0C0.8 -7.0 2.3 -9.2 4.3 -9.2C7.4 -9.2 7.9 -1.2 10.4 0.1" fill="none" stroke="#2f449f" stroke-width="1.55"/>
<text transform="translate(115.80 97.80) scale(1.000 1.040)" text-anchor="start" font-family="Liberation Sans, sans-serif" font-size="13.00" fill="#2f449f">s</text>
<text transform="translate(116.40 85.60) scale(1.000 1.040)" text-anchor="start" font-family="Liberation Sans, sans-serif" font-size="13.00" fill="#2f449f">3</text>
<text transform="translate(124.60 93.10) scale(1.000 1.040)" text-anchor="start" font-family="Liberation Sans, sans-serif" font-size="18.40" fill="#2f449f">)</text>
<text transform="translate(83.20 123.30) scale(1.000 1.040)" text-anchor="start" font-family="Liberation Sans, sans-serif" font-size="18.40" fill="#0ba44c">O(</text>
<path transform="translate(104.9 123.30) skewX(-13)" d="M8.0 -9.5C7.8 -6.5 6.9 0.2 4.0 0.2C1.9 0.2 0.8 -1.4 0.8 -4.0C0.8 -7.0 2.3 -9.2 4.3 -9.2C7.4 -9.2 7.9 -1.2 10.4 0.1" fill="none" stroke="#0ba44c" stroke-width="1.55"/>
<text transform="translate(115.80 128.00) scale(1.000 1.040)" text-anchor="start" font-family="Liberation Sans, sans-serif" font-size="13.00" fill="#0ba44c">s</text>
<text transform="translate(116.40 115.80) scale(1.000 1.040)" text-anchor="start" font-family="Liberation Sans, sans-serif" font-size="13.00" fill="#0ba44c">2</text>
<text transform="translate(124.60 123.30) scale(1.000 1.040)" text-anchor="start" font-family="Liberation Sans, sans-serif" font-size="18.40" fill="#0ba44c">)</text>
</svg>
</body></html>
